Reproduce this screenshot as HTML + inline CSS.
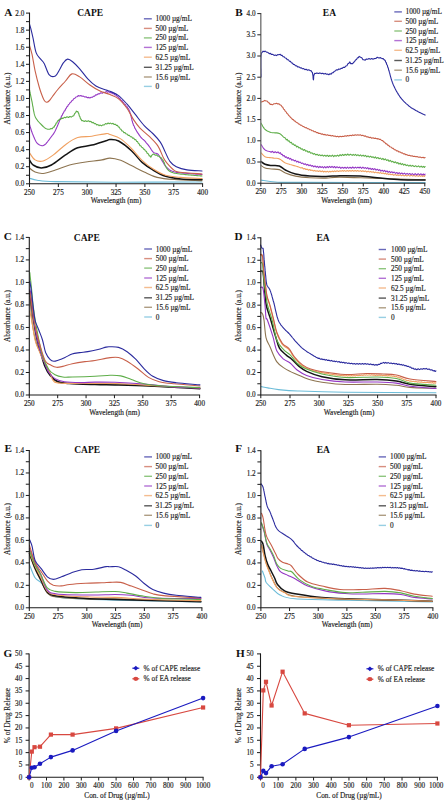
<!DOCTYPE html>
<html><head><meta charset="utf-8"><style>html,body{margin:0;padding:0;background:#fff;width:444px;height:800px;overflow:hidden}svg{display:block}</style></head>
<body><svg width="444" height="800" viewBox="0 0 444 800">
<rect width="444" height="800" fill="#fff"/>
<path d="M29.5 178.2 C30.8 178.5 32.9 179.6 37.2 180.2 C41.5 180.8 42.4 181.3 55.4 181.6 C68.4 181.9 90.6 182.1 115.0 182.2 C139.4 182.3 187.5 182.0 202.0 182.0" fill="none" stroke="#6cbcd8" stroke-width="1.1" stroke-linejoin="round" stroke-linecap="round"/>
<path d="M29.5 168.0 C30.4 168.7 32.8 171.2 35.1 172.1 C37.4 173.0 39.8 173.8 43.2 173.5 C46.6 173.2 51.0 171.5 55.4 170.1 C59.8 168.7 64.5 166.3 69.6 165.0 C74.7 163.7 80.4 162.8 85.8 162.0 C91.2 161.2 98.0 160.6 102.0 159.9 C106.0 159.2 106.9 158.0 110.0 158.1 C113.1 158.2 117.1 159.1 120.7 160.3 C124.3 161.6 127.5 163.7 131.4 165.6 C135.3 167.5 139.9 170.0 144.2 172.0 C148.5 174.0 152.1 176.2 157.1 177.4 C162.1 178.7 166.7 179.0 174.2 179.5 C181.7 180.0 197.4 180.4 202.0 180.6" fill="none" stroke="#8d7450" stroke-width="1.1" stroke-linejoin="round" stroke-linecap="round"/>
<path d="M29.5 160.0 C30.1 160.8 31.2 163.7 33.1 165.0 C35.1 166.3 38.2 168.0 41.2 168.0 C44.2 168.0 47.4 167.2 51.4 165.0 C55.4 162.8 61.1 157.8 65.5 154.9 C69.9 152.0 73.3 149.4 77.7 147.8 C82.1 146.2 87.2 146.3 91.9 145.1 C96.6 143.9 103.1 141.6 106.1 140.7 C109.1 139.8 107.9 139.4 110.0 139.5 C112.1 139.6 115.0 139.1 118.6 141.0 C122.2 142.9 127.5 147.1 131.4 150.7 C135.3 154.3 138.5 159.2 142.1 162.4 C145.7 165.6 148.9 167.6 152.8 169.9 C156.7 172.2 161.0 174.8 165.6 176.3 C170.2 177.8 174.5 178.4 180.6 178.9 C186.7 179.4 198.4 179.4 202.0 179.5" fill="none" stroke="#151515" stroke-width="1.5" stroke-linejoin="round" stroke-linecap="round"/>
<path d="M29.5 152.8 C30.4 154.0 32.8 158.5 35.1 159.9 C37.4 161.3 40.2 161.8 43.2 161.0 C46.2 160.2 49.7 157.6 53.4 154.9 C57.1 152.2 61.5 147.6 65.5 144.7 C69.5 141.8 73.3 139.0 77.7 137.6 C82.1 136.2 87.2 136.9 91.9 136.2 C96.6 135.5 103.1 133.9 106.1 133.6 C109.1 133.3 107.6 133.7 110.0 134.6 C112.4 135.5 117.1 136.6 120.7 138.9 C124.3 141.2 127.8 144.9 131.4 148.5 C135.0 152.1 138.5 156.9 142.1 160.3 C145.7 163.7 148.9 166.3 152.8 168.8 C156.7 171.3 161.0 173.9 165.6 175.3 C170.2 176.7 174.5 176.9 180.6 177.4 C186.7 177.9 198.4 178.3 202.0 178.5" fill="none" stroke="#f0a060" stroke-width="1.1" stroke-linejoin="round" stroke-linecap="round"/>
<path d="M29.5 124.5 L29.7 125.2 L30.0 126.2 L30.4 127.4 L30.8 128.6 L31.2 130.0 L31.6 131.3 L32.1 132.6 L32.5 133.7 L33.0 134.9 L33.5 136.2 L34.1 137.5 L34.6 138.7 L35.1 139.8 L35.6 140.8 L36.1 141.7 L37.1 143.2 L38.1 144.1 L39.2 144.7 L40.3 145.2 L41.5 145.6 L42.8 145.7 L44.3 145.1 L45.0 144.5 L45.8 143.8 L46.6 142.8 L47.5 141.8 L48.3 140.7 L49.2 139.6 L50.0 138.5 L50.7 137.5 L51.4 136.6 L52.2 135.5 L52.9 134.7 L53.5 133.9 L54.0 133.0 L54.6 132.0 L55.4 130.5 L55.8 129.6 L56.3 128.6 L56.8 127.4 L57.3 126.2 L57.8 125.0 L58.3 123.7 L58.9 122.4 L59.4 121.1 L59.9 119.8 L60.5 118.4 L61.0 117.8 L61.5 116.0 L62.2 115.4 L62.9 113.5 L63.5 112.9 L64.2 111.1 L64.9 110.7 L65.6 109.0 L66.2 108.4 L66.9 106.8 L67.6 106.5 L68.5 104.6 L69.3 104.1 L70.2 102.4 L71.1 102.1 L72.0 100.5 L72.8 100.3 L73.7 98.7 L74.8 98.3 L75.9 97.0 L77.0 96.8 L78.2 95.6 L79.7 96.0 L80.8 95.5 L82.0 96.3 L83.3 96.1 L84.7 97.0 L86.0 96.8 L87.4 97.8 L88.7 97.4 L89.9 98.0 L91.2 97.2 L92.4 97.3 L93.5 96.2 L94.6 96.1 L95.7 94.8 L96.9 94.9 L98.0 93.8 L99.4 93.9 L100.9 92.8 L102.3 93.2 L103.7 92.2 L105.0 92.5 L106.1 91.6 L107.6 92.2 L108.7 91.6 L110.0 92.7 L111.1 92.4 L112.4 93.7 L113.7 93.7 L115.1 95.0 L116.4 95.2 L117.3 96.7 L118.2 96.8 L119.1 98.3 L120.1 98.7 L121.0 100.2 L121.9 100.6 L122.8 102.3 L123.6 102.7 L124.5 104.2 L125.3 104.5 L126.2 106.1 L127.0 106.6 L127.8 108.3 L128.6 108.9 L129.3 111.0 L129.7 111.3 L130.1 113.0 L130.5 113.5 L130.8 115.3 L131.1 116.1 L131.4 118.0 L131.7 118.5 L132.0 120.6 L132.3 121.2 L132.7 123.0 L133.1 123.6 L133.5 125.4 L134.1 125.9 L134.7 127.9 L135.3 128.8 L136.0 130.0 L136.7 131.2 L137.4 132.4 L138.1 133.4 L138.8 134.4 L139.4 135.4 L140.0 136.2 L141.0 137.5 L141.9 138.4 L142.8 139.2 L143.6 139.8 L144.5 140.7 L145.4 141.7 L146.3 142.8 L147.2 143.8 L148.1 144.9 L149.0 146.1 L149.8 147.2 L150.5 148.3 L151.2 149.5 L152.0 150.6 L152.8 151.6 L153.5 152.4 L154.6 153.0 L155.8 153.2 L156.9 153.5 L158.0 154.2 L158.6 155.0 L159.3 155.9 L159.9 157.0 L160.6 158.1 L161.2 159.3 L161.9 160.4 L162.5 161.4 L163.2 162.5 L163.8 163.6 L164.5 164.7 L165.2 165.8 L166.0 166.8 L167.0 167.7 L167.8 168.4 L168.5 169.0 L169.3 169.6 L170.2 170.2 L171.2 170.8 L172.4 171.3 L174.0 171.8 L176.0 172.2 L176.9 172.4 L177.9 172.5 L179.0 172.7 L180.3 172.8 L181.6 172.9 L182.9 173.1 L184.4 173.2 L185.8 173.3 L187.3 173.5 L188.8 173.6 L190.3 173.7 L191.8 173.8 L193.2 173.9 L194.6 174.0 L196.0 174.1 L197.2 174.2 L198.4 174.2 L199.5 174.3 L200.5 174.4 L201.3 174.4 L202.0 174.5" fill="none" stroke="#9437c4" stroke-width="1.1" stroke-linejoin="round" stroke-linecap="round"/>
<path d="M29.5 90.0 L29.7 90.7 L29.8 91.6 L30.1 92.7 L30.3 93.9 L30.6 95.2 L30.9 96.6 L31.2 98.0 L31.5 99.4 L31.8 100.8 L32.1 102.2 L32.3 103.3 L32.5 104.5 L32.7 105.8 L33.0 107.0 L33.2 108.3 L33.4 109.6 L33.6 110.8 L33.9 112.0 L34.1 113.2 L34.4 114.4 L34.7 115.4 L35.1 116.4 L35.7 117.7 L36.4 118.9 L37.2 120.0 L38.0 121.1 L38.8 122.0 L39.6 122.9 L40.4 123.7 L41.2 124.5 L42.2 125.5 L43.2 126.5 L44.2 127.4 L45.3 128.2 L46.3 128.7 L47.3 129.1 L48.5 129.3 L49.8 129.2 L51.0 128.5 L52.3 128.7 L53.4 127.0 L54.2 127.1 L54.8 125.4 L55.5 125.0 L56.2 123.0 L56.9 122.7 L57.6 120.9 L58.4 120.7 L59.5 119.2 L60.6 119.4 L61.8 118.1 L63.1 118.4 L64.3 117.3 L65.5 117.8 L67.0 116.8 L68.5 117.5 L69.9 116.5 L71.3 117.1 L72.6 116.1 L73.7 115.8 L74.7 113.5 L75.5 112.9 L76.4 111.1 L77.3 111.7 L77.8 111.5 L78.4 113.1 L78.8 113.6 L79.3 115.9 L79.9 116.6 L80.4 118.7 L81.1 119.2 L81.8 120.8 L82.9 120.6 L84.2 121.5 L85.5 120.7 L86.9 121.5 L88.4 120.7 L89.9 121.7 L90.9 121.3 L92.0 122.7 L93.2 122.4 L94.4 123.7 L95.5 123.5 L96.7 124.9 L97.9 124.5 L99.0 125.7 L100.0 125.0 L101.5 125.9 L102.8 124.8 L104.2 125.0 L105.5 123.6 L106.8 124.1 L108.1 123.0 L109.3 123.8 L110.5 123.1 L111.7 123.9 L113.0 123.3 L114.2 124.5 L115.3 124.2 L116.4 125.4 L117.4 125.2 L118.4 127.0 L119.3 127.1 L120.1 128.9 L121.0 129.2 L121.9 131.0 L122.8 131.0 L123.9 132.6 L125.0 132.6 L126.1 134.0 L127.1 134.0 L128.2 135.4 L129.3 135.2 L130.4 136.8 L131.5 136.7 L132.6 138.1 L133.7 138.1 L134.8 139.7 L135.7 139.5 L136.7 141.4 L137.5 141.5 L138.3 143.4 L139.1 143.7 L140.0 145.7 L140.8 145.7 L141.7 147.3 L142.6 147.5 L143.6 149.1 L144.5 149.2 L145.4 150.9 L146.3 151.2 L147.3 153.4 L148.3 153.8 L149.3 155.9 L150.1 155.9 L150.8 157.3 L151.7 155.4 L152.6 154.6 L153.7 154.0 L155.1 155.2 L156.6 154.9 L158.0 156.3 L159.2 156.2 L160.3 157.7 L161.4 157.9 L162.5 160.0 L163.1 160.1 L163.6 162.0 L164.2 162.4 L164.8 164.5 L165.3 165.4 L165.9 166.6 L166.4 167.7 L167.0 168.6 L168.0 169.9 L169.0 170.8 L170.1 171.6 L171.5 172.2 L172.4 172.5 L173.2 172.8 L174.2 173.1 L175.2 173.3 L176.5 173.5 L178.0 173.7 L180.0 174.0 L180.9 174.1 L182.0 174.2 L183.1 174.3 L184.4 174.5 L185.7 174.6 L187.1 174.7 L188.6 174.9 L190.1 175.0 L191.5 175.1 L193.0 175.2 L194.4 175.4 L195.8 175.5 L197.1 175.6 L198.3 175.7 L199.5 175.8 L200.4 175.9 L201.3 175.9 L202.0 176.0" fill="none" stroke="#5fae4a" stroke-width="1.1" stroke-linejoin="round" stroke-linecap="round"/>
<path d="M29.5 45.5 C29.9 47.0 31.2 50.4 32.1 54.6 C33.0 58.8 33.9 65.4 35.1 70.8 C36.3 76.2 38.1 83.1 39.2 87.0 C40.3 90.9 40.7 91.8 41.5 94.0 C42.3 96.2 43.2 98.6 44.0 100.0 C44.8 101.4 45.6 102.1 46.5 102.2 C47.4 102.3 48.5 101.5 49.5 100.5 C50.5 99.5 51.2 98.2 52.5 96.5 C53.8 94.8 55.2 92.6 57.4 90.0 C59.6 87.4 63.1 83.7 65.5 81.0 C67.9 78.3 69.6 74.6 72.0 73.9 C74.4 73.2 76.7 75.1 79.7 76.9 C82.7 78.8 86.5 82.6 89.9 85.0 C93.3 87.4 96.7 89.5 100.0 91.1 C103.3 92.7 106.9 93.3 110.0 94.6 C113.1 95.9 115.8 96.5 118.6 98.8 C121.4 101.1 124.6 105.0 127.1 108.5 C129.6 112.0 131.3 116.3 133.5 119.6 C135.7 122.9 137.4 125.3 140.0 128.1 C142.6 130.9 146.0 133.2 149.0 136.2 C152.0 139.2 155.6 142.5 158.0 146.1 C160.4 149.7 161.9 155.0 163.4 157.8 C164.9 160.7 165.2 161.1 167.0 163.2 C168.8 165.3 172.0 168.9 174.2 170.4 C176.4 171.9 175.4 171.6 180.0 172.2 C184.6 172.8 198.3 173.7 202.0 174.0" fill="none" stroke="#c8604a" stroke-width="1.1" stroke-linejoin="round" stroke-linecap="round"/>
<path d="M29.5 24.2 C29.7 24.9 30.1 25.8 30.7 28.2 C31.3 30.6 32.2 34.3 33.1 38.4 C34.0 42.5 34.9 49.2 36.1 52.6 C37.3 56.0 38.8 56.9 40.2 58.7 C41.6 60.6 42.8 61.0 44.3 63.7 C45.8 66.4 47.4 72.9 49.3 74.9 C51.1 76.9 53.7 76.8 55.4 75.9 C57.1 75.1 58.1 72.0 59.5 69.8 C60.9 67.6 62.1 64.5 63.5 62.7 C64.8 60.9 66.1 59.3 67.6 59.1 C69.1 58.9 70.6 60.1 72.6 61.7 C74.6 63.3 77.2 65.9 79.7 68.8 C82.2 71.7 85.1 76.0 87.8 78.9 C90.5 81.8 92.9 84.1 95.9 86.0 C99.0 87.9 103.8 89.2 106.1 90.1 C108.4 91.0 107.9 90.4 110.0 91.3 C112.1 92.2 115.8 93.4 118.6 95.6 C121.4 97.8 124.2 101.0 127.1 104.2 C129.9 107.4 132.8 111.3 135.7 114.9 C138.5 118.5 141.3 122.5 144.2 125.6 C147.0 128.7 150.1 130.8 152.8 133.5 C155.5 136.2 158.3 139.2 160.3 142.1 C162.3 145.0 163.0 147.5 164.6 150.7 C166.2 153.9 167.9 158.6 169.9 161.3 C171.9 164.0 173.5 165.3 176.3 166.7 C179.2 168.1 182.7 169.2 187.0 169.9 C191.3 170.6 199.5 170.8 202.0 171.0" fill="none" stroke="#2b2b9e" stroke-width="1.1" stroke-linejoin="round" stroke-linecap="round"/>
<path d="M29.5 12.6V183.8" fill="none" stroke="#1a1a1a" stroke-width="1.1"/>
<path d="M29.0 183.8H203.1" fill="none" stroke="#1a1a1a" stroke-width="1.1"/>
<path d="M26.0 183.80H29.5" stroke="#1a1a1a" stroke-width="1"/>
<text x="24.3" y="186.20" text-anchor="end" font-size="7.2" font-family="Liberation Serif, serif" fill="#1e1e1e" stroke="#1e1e1e" stroke-width="0.16">0.0</text>
<path d="M26.0 166.73H29.5" stroke="#1a1a1a" stroke-width="1"/>
<text x="24.3" y="169.13" text-anchor="end" font-size="7.2" font-family="Liberation Serif, serif" fill="#1e1e1e" stroke="#1e1e1e" stroke-width="0.16">0.2</text>
<path d="M26.0 149.66H29.5" stroke="#1a1a1a" stroke-width="1"/>
<text x="24.3" y="152.06" text-anchor="end" font-size="7.2" font-family="Liberation Serif, serif" fill="#1e1e1e" stroke="#1e1e1e" stroke-width="0.16">0.4</text>
<path d="M26.0 132.59H29.5" stroke="#1a1a1a" stroke-width="1"/>
<text x="24.3" y="134.99" text-anchor="end" font-size="7.2" font-family="Liberation Serif, serif" fill="#1e1e1e" stroke="#1e1e1e" stroke-width="0.16">0.6</text>
<path d="M26.0 115.52H29.5" stroke="#1a1a1a" stroke-width="1"/>
<text x="24.3" y="117.92" text-anchor="end" font-size="7.2" font-family="Liberation Serif, serif" fill="#1e1e1e" stroke="#1e1e1e" stroke-width="0.16">0.8</text>
<path d="M26.0 98.45H29.5" stroke="#1a1a1a" stroke-width="1"/>
<text x="24.3" y="100.85" text-anchor="end" font-size="7.2" font-family="Liberation Serif, serif" fill="#1e1e1e" stroke="#1e1e1e" stroke-width="0.16">1.0</text>
<path d="M26.0 81.38H29.5" stroke="#1a1a1a" stroke-width="1"/>
<text x="24.3" y="83.78" text-anchor="end" font-size="7.2" font-family="Liberation Serif, serif" fill="#1e1e1e" stroke="#1e1e1e" stroke-width="0.16">1.2</text>
<path d="M26.0 64.31H29.5" stroke="#1a1a1a" stroke-width="1"/>
<text x="24.3" y="66.71" text-anchor="end" font-size="7.2" font-family="Liberation Serif, serif" fill="#1e1e1e" stroke="#1e1e1e" stroke-width="0.16">1.4</text>
<path d="M26.0 47.24H29.5" stroke="#1a1a1a" stroke-width="1"/>
<text x="24.3" y="49.64" text-anchor="end" font-size="7.2" font-family="Liberation Serif, serif" fill="#1e1e1e" stroke="#1e1e1e" stroke-width="0.16">1.6</text>
<path d="M26.0 30.17H29.5" stroke="#1a1a1a" stroke-width="1"/>
<text x="24.3" y="32.57" text-anchor="end" font-size="7.2" font-family="Liberation Serif, serif" fill="#1e1e1e" stroke="#1e1e1e" stroke-width="0.16">1.8</text>
<path d="M26.0 13.10H29.5" stroke="#1a1a1a" stroke-width="1"/>
<text x="24.3" y="15.50" text-anchor="end" font-size="7.2" font-family="Liberation Serif, serif" fill="#1e1e1e" stroke="#1e1e1e" stroke-width="0.16">2.0</text>
<path d="M26.0 175.27H29.5" stroke="#1a1a1a" stroke-width="1"/>
<path d="M26.0 158.19H29.5" stroke="#1a1a1a" stroke-width="1"/>
<path d="M26.0 141.12H29.5" stroke="#1a1a1a" stroke-width="1"/>
<path d="M26.0 124.06H29.5" stroke="#1a1a1a" stroke-width="1"/>
<path d="M26.0 106.98H29.5" stroke="#1a1a1a" stroke-width="1"/>
<path d="M26.0 89.91H29.5" stroke="#1a1a1a" stroke-width="1"/>
<path d="M26.0 72.84H29.5" stroke="#1a1a1a" stroke-width="1"/>
<path d="M26.0 55.78H29.5" stroke="#1a1a1a" stroke-width="1"/>
<path d="M26.0 38.70H29.5" stroke="#1a1a1a" stroke-width="1"/>
<path d="M26.0 21.63H29.5" stroke="#1a1a1a" stroke-width="1"/>
<path d="M29.50 183.8V187.0" stroke="#1a1a1a" stroke-width="1"/>
<text x="29.50" y="194.60" text-anchor="middle" font-size="7.2" font-family="Liberation Serif, serif" fill="#1e1e1e" stroke="#1e1e1e" stroke-width="0.16">250</text>
<path d="M58.35 183.8V187.0" stroke="#1a1a1a" stroke-width="1"/>
<text x="58.35" y="194.60" text-anchor="middle" font-size="7.2" font-family="Liberation Serif, serif" fill="#1e1e1e" stroke="#1e1e1e" stroke-width="0.16">275</text>
<path d="M87.20 183.8V187.0" stroke="#1a1a1a" stroke-width="1"/>
<text x="87.20" y="194.60" text-anchor="middle" font-size="7.2" font-family="Liberation Serif, serif" fill="#1e1e1e" stroke="#1e1e1e" stroke-width="0.16">300</text>
<path d="M116.05 183.8V187.0" stroke="#1a1a1a" stroke-width="1"/>
<text x="116.05" y="194.60" text-anchor="middle" font-size="7.2" font-family="Liberation Serif, serif" fill="#1e1e1e" stroke="#1e1e1e" stroke-width="0.16">325</text>
<path d="M144.90 183.8V187.0" stroke="#1a1a1a" stroke-width="1"/>
<text x="144.90" y="194.60" text-anchor="middle" font-size="7.2" font-family="Liberation Serif, serif" fill="#1e1e1e" stroke="#1e1e1e" stroke-width="0.16">350</text>
<path d="M173.75 183.8V187.0" stroke="#1a1a1a" stroke-width="1"/>
<text x="173.75" y="194.60" text-anchor="middle" font-size="7.2" font-family="Liberation Serif, serif" fill="#1e1e1e" stroke="#1e1e1e" stroke-width="0.16">375</text>
<path d="M202.60 183.8V187.0" stroke="#1a1a1a" stroke-width="1"/>
<text x="202.60" y="194.60" text-anchor="middle" font-size="7.2" font-family="Liberation Serif, serif" fill="#1e1e1e" stroke="#1e1e1e" stroke-width="0.16">400</text>
<text x="116" y="202.6" text-anchor="middle" font-size="7.3" font-family="Liberation Serif, serif" fill="#1e1e1e" stroke="#1e1e1e" stroke-width="0.16">Wavelength (nm)</text>
<text transform="translate(9.8 98.5) rotate(-90)" text-anchor="middle" font-size="7.3" font-family="Liberation Serif, serif" fill="#1e1e1e" stroke="#1e1e1e" stroke-width="0.16">Absorbance (a.u.)</text>
<text x="4.2" y="15.6" font-size="11.2" font-weight="bold" font-family="Liberation Serif, serif" fill="#111">A</text>
<text x="90.2" y="16.2" text-anchor="middle" font-size="9.5" font-weight="bold" font-family="Liberation Serif, serif" fill="#111">CAPE</text>
<path d="M261.1 180.1 C263.5 180.4 268.8 181.6 275.3 182.0 C281.8 182.4 275.0 182.3 300.0 182.4 C325.0 182.5 404.2 182.5 425.1 182.5" fill="none" stroke="#6cbcd8" stroke-width="1.1" stroke-linejoin="round" stroke-linecap="round"/>
<path d="M261.1 165.5 C261.8 165.9 263.4 167.4 265.1 168.0 C266.8 168.6 268.8 168.7 271.2 169.0 C273.6 169.3 276.9 168.9 279.3 169.6 C281.7 170.3 282.7 171.9 285.4 173.0 C288.1 174.1 291.4 175.3 295.5 176.1 C299.6 176.9 304.6 177.4 309.7 177.7 C314.8 178.0 320.9 178.2 326.0 178.1 C331.1 178.0 330.9 177.0 340.0 177.1 C349.1 177.2 366.3 178.1 380.5 178.5 C394.7 178.9 417.7 179.5 425.1 179.7" fill="none" stroke="#8d7450" stroke-width="1.1" stroke-linejoin="round" stroke-linecap="round"/>
<path d="M261.1 161.5 C261.8 162.0 263.4 163.6 265.1 164.3 C266.8 165.0 268.8 165.2 271.2 165.5 C273.6 165.8 276.9 165.2 279.3 166.0 C281.7 166.8 282.7 168.7 285.4 170.0 C288.1 171.3 291.4 173.1 295.5 174.1 C299.6 175.1 304.6 175.7 309.7 176.1 C314.8 176.5 320.9 176.6 326.0 176.5 C331.1 176.4 334.3 175.8 340.0 175.7 C345.7 175.6 353.6 175.7 360.3 176.1 C367.1 176.5 373.8 177.5 380.5 178.1 C387.2 178.7 393.4 179.4 400.8 179.7 C408.2 180.0 421.1 180.0 425.1 180.1" fill="none" stroke="#151515" stroke-width="1.5" stroke-linejoin="round" stroke-linecap="round"/>
<path d="M261.1 152.8 L261.8 153.6 L262.7 154.7 L263.9 155.9 L265.1 156.8 L266.2 157.2 L267.3 157.4 L268.5 157.5 L269.8 157.6 L271.2 157.8 L272.5 157.9 L273.8 158.1 L275.2 158.2 L276.7 158.3 L278.0 158.5 L279.3 158.9 L280.4 159.4 L281.3 160.1 L282.2 160.8 L283.1 161.5 L284.2 162.3 L285.4 162.9 L286.4 163.3 L287.5 163.7 L288.7 164.1 L289.9 164.5 L291.2 164.8 L292.6 165.2 L294.0 165.6 L295.5 166.0 L296.5 166.3 L297.6 166.6 L298.7 167.0 L299.9 167.4 L301.0 168.1 L302.2 167.6 L303.4 168.9 L304.7 168.5 L305.9 169.5 L307.2 169.1 L308.4 170.2 L309.7 169.5 L310.9 170.5 L312.1 170.1 L313.4 171.0 L314.6 170.4 L315.9 171.3 L317.2 170.7 L318.5 171.5 L319.8 170.8 L321.1 171.7 L322.4 170.9 L323.6 172.0 L324.8 171.2 L326.0 171.9 L327.3 171.2 L328.6 172.1 L329.8 171.2 L331.0 171.9 L332.2 171.1 L333.3 171.7 L334.5 170.9 L335.8 171.6 L337.1 170.7 L338.5 171.4 L340.0 170.7 L341.1 171.3 L342.2 170.6 L343.4 171.3 L344.6 170.6 L345.9 171.4 L347.2 170.5 L348.5 171.3 L349.8 170.5 L351.1 171.3 L352.4 170.4 L353.8 171.2 L355.1 170.5 L356.4 171.3 L357.7 170.5 L359.0 171.4 L360.3 170.6 L361.6 171.5 L362.9 170.7 L364.1 171.6 L365.4 170.9 L366.8 172.0 L368.1 171.1 L369.4 172.1 L370.6 171.5 L371.9 172.3 L373.2 171.8 L374.5 172.8 L375.7 172.1 L377.0 172.9 L378.2 172.3 L379.3 173.3 L380.5 172.6 L381.8 173.5 L383.1 172.9 L384.3 173.9 L385.4 173.2 L386.5 174.3 L387.6 173.6 L388.7 174.6 L389.8 174.1 L391.0 174.8 L392.3 174.2 L393.7 175.3 L395.2 174.6 L396.8 175.5 L397.8 174.8 L398.9 175.6 L400.1 174.8 L401.4 175.8 L402.7 175.0 L404.0 175.9 L405.4 175.2 L406.9 176.0 L408.3 175.1 L409.8 176.1 L411.2 175.3 L412.7 176.1 L414.1 175.4 L415.5 176.3 L416.9 175.6 L418.2 176.4 L419.4 175.5 L420.6 176.4 L421.7 175.6 L422.7 176.5 L423.6 175.6 L424.4 176.5 L425.1 175.7" fill="none" stroke="#f0a060" stroke-width="1.1" stroke-linejoin="round" stroke-linecap="round"/>
<path d="M261.1 144.6 L261.6 145.4 L262.3 146.5 L263.2 147.8 L264.1 149.0 L265.1 149.9 L266.2 150.5 L267.3 150.9 L268.5 151.3 L269.8 151.5 L271.2 152.3 L272.5 151.3 L273.8 152.7 L275.2 151.7 L276.7 152.8 L278.0 151.9 L279.3 153.4 L280.4 152.7 L281.3 154.4 L282.2 154.2 L283.1 156.0 L284.2 155.6 L285.4 157.4 L286.3 156.8 L287.3 158.3 L288.4 157.5 L289.5 159.1 L290.6 158.4 L291.8 160.2 L293.0 159.6 L294.3 160.9 L295.5 160.3 L296.6 162.0 L297.8 161.2 L299.0 162.6 L300.2 162.1 L301.5 163.5 L302.7 163.0 L304.0 164.4 L305.2 163.7 L306.5 165.1 L307.7 164.4 L308.9 165.7 L310.1 164.9 L311.4 166.2 L312.6 165.6 L313.8 166.9 L315.0 165.8 L316.2 167.2 L317.5 166.3 L318.7 167.6 L319.9 166.3 L321.1 167.5 L322.3 166.6 L323.5 167.8 L324.7 166.5 L325.9 167.8 L327.1 166.5 L328.3 167.7 L329.5 166.4 L330.8 167.5 L332.0 166.4 L333.3 167.7 L334.5 166.5 L335.8 167.8 L337.0 166.7 L338.3 167.8 L339.6 167.0 L340.9 168.3 L342.2 167.2 L343.6 168.2 L345.0 167.2 L346.2 168.4 L347.5 167.2 L348.7 168.3 L350.0 167.2 L351.4 168.3 L352.7 167.0 L354.0 168.2 L355.4 167.1 L356.6 168.1 L357.9 167.1 L359.1 168.0 L360.3 167.0 L361.6 168.4 L362.9 167.2 L364.2 168.4 L365.4 167.5 L366.5 168.7 L367.7 167.6 L368.9 169.1 L370.0 168.1 L371.2 169.5 L372.4 168.5 L373.6 169.7 L374.8 168.7 L376.1 170.1 L377.3 169.2 L378.5 170.5 L379.7 169.6 L380.9 171.1 L382.2 170.2 L383.4 171.4 L384.6 170.4 L385.8 171.9 L387.0 170.8 L388.2 172.3 L389.4 171.3 L390.6 172.6 L391.8 171.7 L393.0 172.9 L394.2 172.0 L395.5 173.4 L396.8 172.5 L398.0 173.7 L399.3 172.7 L400.5 173.9 L401.8 173.0 L403.1 174.2 L404.4 173.1 L405.8 174.4 L407.1 173.3 L408.4 174.4 L409.7 173.5 L411.0 174.6 L412.3 173.6 L413.8 174.9 L415.2 173.6 L416.7 175.0 L418.2 173.7 L419.6 174.9 L421.0 173.8 L422.3 175.0 L423.4 174.0 L424.3 174.9 L425.1 174.1" fill="none" stroke="#9437c4" stroke-width="1.1" stroke-linejoin="round" stroke-linecap="round"/>
<path d="M261.1 123.2 L261.5 123.9 L262.1 125.0 L262.7 126.2 L263.5 127.4 L264.3 128.6 L265.1 129.5 L266.2 130.3 L267.3 131.0 L268.5 131.6 L269.8 132.1 L271.2 132.5 L272.5 132.7 L273.8 132.8 L275.2 132.9 L276.7 132.9 L278.0 133.1 L279.3 133.5 L280.4 134.1 L281.3 134.8 L282.2 135.7 L283.1 136.6 L284.2 137.6 L285.4 138.1 L286.2 139.9 L287.2 139.3 L288.1 141.1 L289.1 140.8 L290.2 142.7 L291.3 142.3 L292.3 144.3 L293.4 143.9 L294.5 145.5 L295.5 145.0 L296.6 146.9 L297.8 146.3 L298.9 148.0 L300.0 147.6 L301.2 149.3 L302.3 148.7 L303.4 150.4 L304.6 149.5 L305.7 151.1 L307.0 150.8 L308.2 152.3 L309.5 151.6 L310.7 153.3 L312.0 152.8 L313.3 154.2 L314.5 153.6 L315.8 154.9 L317.1 154.2 L318.3 155.5 L319.6 154.7 L320.9 155.8 L322.2 155.0 L323.5 156.2 L324.7 155.2 L326.0 156.2 L327.3 155.2 L328.6 156.5 L329.8 155.3 L331.1 156.4 L332.4 155.2 L333.7 156.6 L334.9 155.4 L336.1 156.3 L337.4 155.1 L338.8 156.2 L340.1 154.7 L341.4 155.7 L342.6 154.4 L343.8 155.5 L345.0 154.3 L346.5 155.3 L347.8 154.0 L349.0 155.3 L350.5 154.2 L352.2 155.4 L353.2 154.4 L354.3 155.4 L355.5 154.4 L356.7 155.6 L357.9 154.7 L359.2 155.9 L360.5 154.8 L361.8 156.1 L363.1 155.1 L364.3 156.3 L365.5 155.4 L366.8 156.8 L368.0 155.8 L369.3 157.1 L370.5 156.2 L371.8 157.4 L373.0 156.7 L374.2 158.0 L375.4 156.9 L376.5 158.4 L377.9 157.5 L379.2 158.8 L380.4 158.0 L381.7 159.5 L382.9 158.4 L384.1 159.9 L385.3 158.9 L386.6 160.4 L387.9 159.7 L389.1 161.3 L390.3 160.4 L391.6 161.9 L392.8 161.3 L394.1 162.7 L395.4 161.8 L396.8 163.3 L397.9 162.5 L399.0 164.1 L400.2 163.1 L401.3 164.6 L402.5 163.6 L403.7 165.1 L404.9 164.2 L406.2 165.6 L407.5 164.9 L408.9 166.2 L410.1 165.1 L411.3 166.3 L412.7 165.4 L414.1 166.6 L415.6 165.7 L417.0 166.9 L418.5 165.9 L419.9 167.2 L421.2 166.1 L422.4 167.3 L423.5 166.4 L424.4 167.4 L425.1 166.5" fill="none" stroke="#5fae4a" stroke-width="1.1" stroke-linejoin="round" stroke-linecap="round"/>
<path d="M261.1 102.1 L262.0 101.7 L263.3 101.4 L264.7 100.4 L266.1 101.0 L267.1 101.0 L268.2 102.4 L269.2 102.9 L270.2 104.4 L271.2 104.4 L272.6 104.8 L273.9 103.7 L275.3 103.8 L276.5 103.2 L277.7 103.9 L279.0 103.8 L280.3 105.0 L281.1 105.2 L282.0 106.7 L282.8 107.2 L283.6 109.1 L284.5 109.8 L285.4 111.4 L286.2 111.9 L287.0 113.6 L287.8 114.0 L288.7 115.5 L289.6 116.1 L290.5 117.5 L291.5 118.1 L292.4 119.4 L293.3 119.6 L294.3 120.9 L295.3 121.2 L296.3 122.5 L297.4 122.7 L298.5 123.9 L299.6 124.2 L300.6 125.3 L301.7 125.3 L302.8 126.5 L303.9 126.6 L305.1 127.7 L306.3 127.6 L307.4 128.7 L308.6 128.7 L309.7 129.8 L310.8 129.7 L312.0 130.8 L313.1 130.7 L314.2 131.8 L315.4 131.6 L316.5 132.6 L317.6 132.5 L318.8 133.5 L319.9 133.2 L321.2 134.1 L322.4 133.9 L323.7 134.7 L325.0 134.4 L326.2 135.2 L327.5 134.8 L328.7 135.5 L330.0 135.2 L331.3 136.0 L332.5 135.6 L333.8 136.3 L335.1 136.0 L336.3 136.7 L337.6 136.2 L338.8 136.9 L340.1 136.3 L341.4 136.8 L342.6 136.2 L343.8 136.5 L345.1 135.8 L346.3 136.3 L347.6 135.5 L348.8 135.9 L350.1 135.3 L351.4 135.7 L352.6 134.9 L353.9 135.5 L355.2 134.8 L356.5 135.3 L357.8 134.7 L359.0 135.3 L360.3 134.8 L361.6 135.6 L362.8 135.3 L364.1 136.1 L365.4 135.9 L366.6 136.9 L367.9 136.7 L369.1 137.6 L370.4 137.3 L371.7 138.2 L373.0 137.7 L374.3 138.5 L375.6 138.1 L376.9 138.9 L378.1 138.6 L379.3 139.4 L380.5 139.3 L381.6 140.5 L382.7 140.6 L383.7 141.9 L384.7 142.2 L385.7 143.6 L386.7 143.9 L387.7 145.2 L388.7 145.4 L389.8 146.8 L391.0 147.0 L392.1 148.2 L393.2 148.4 L394.3 149.6 L395.5 149.8 L396.8 151.0 L397.8 150.9 L398.9 152.0 L400.0 151.9 L401.2 152.9 L402.3 152.8 L403.5 153.9 L404.6 153.8 L405.8 154.7 L406.9 154.6 L408.2 155.5 L409.5 155.2 L410.8 156.0 L412.1 155.7 L413.4 156.5 L414.6 156.2 L415.8 156.8 L417.0 156.5 L418.6 157.3 L420.1 157.0 L421.7 157.7 L423.1 157.3 L424.2 158.0 L425.1 157.5" fill="none" stroke="#c8604a" stroke-width="1.1" stroke-linejoin="round" stroke-linecap="round"/>
<path d="M261.1 77.0 L261.1 76.3 L261.1 75.4 L261.1 74.4 L261.0 73.3 L261.0 72.1 L261.0 70.7 L261.0 69.3 L260.9 67.9 L260.9 66.4 L260.9 64.9 L260.9 63.5 L260.9 62.0 L260.9 60.7 L260.9 59.3 L260.9 58.1 L261.0 57.1 L261.0 56.1 L261.1 55.3 L261.6 52.9 L262.3 52.1 L263.1 51.1 L264.1 51.7 L265.2 51.1 L266.5 52.2 L267.8 52.3 L269.2 53.6 L270.4 53.4 L271.6 54.5 L272.9 54.4 L274.1 55.4 L275.3 55.0 L276.6 55.6 L277.7 54.6 L278.9 54.8 L280.3 54.3 L281.2 55.4 L282.1 55.2 L283.1 56.7 L284.2 56.8 L285.2 58.0 L286.3 58.3 L287.4 59.8 L288.4 59.8 L289.4 61.2 L290.4 61.4 L291.4 62.8 L292.4 63.1 L293.4 64.4 L294.5 64.5 L295.5 65.8 L296.7 65.9 L297.8 67.0 L299.0 66.9 L300.2 67.9 L301.4 67.8 L302.5 68.8 L303.7 68.6 L304.9 69.6 L306.2 69.3 L307.5 70.2 L308.8 69.7 L310.0 70.7 L311.0 70.6 L311.8 72.0 L312.4 72.4 L312.8 74.8 L313.0 75.9 L313.1 78.2 L313.2 78.8 L313.4 80.0 L313.6 79.0 L313.6 78.4 L313.7 75.9 L314.0 75.0 L314.8 73.3 L315.7 73.5 L316.9 72.9 L318.3 73.5 L319.8 72.9 L321.3 73.6 L322.7 73.2 L323.9 74.0 L325.3 73.4 L326.5 74.3 L327.7 74.0 L328.8 74.7 L330.0 73.8 L331.1 74.1 L332.1 72.8 L333.2 72.7 L334.3 71.3 L335.3 71.0 L336.3 69.8 L337.6 70.0 L338.7 69.0 L339.9 69.3 L341.0 68.3 L342.2 68.4 L343.4 67.2 L344.7 67.4 L345.8 66.0 L346.9 65.7 L347.9 63.8 L348.9 63.3 L349.7 61.9 L350.7 63.6 L352.1 63.6 L352.8 63.6 L353.6 62.2 L354.5 61.8 L355.5 60.0 L356.5 59.5 L357.5 57.7 L358.4 57.6 L359.2 56.4 L360.6 57.3 L361.8 57.7 L362.8 59.6 L363.9 59.7 L365.2 60.2 L366.4 59.0 L367.8 59.2 L369.0 58.6 L370.3 59.2 L371.7 58.6 L373.0 59.3 L374.1 58.6 L375.8 58.5 L377.3 57.3 L378.8 58.0 L380.5 57.6 L382.0 58.6 L383.2 58.6 L384.2 59.8 L385.2 60.5 L385.7 62.1 L386.2 62.5 L386.7 64.5 L387.3 65.2 L387.8 67.3 L388.3 68.2 L388.7 70.1 L389.0 70.6 L389.4 72.4 L389.7 73.2 L390.1 74.8 L390.4 76.1 L390.8 77.4 L391.1 78.6 L391.5 79.7 L391.9 81.0 L392.3 82.2 L392.7 83.3 L393.1 84.3 L393.6 85.4 L394.1 86.6 L394.7 87.8 L395.2 88.8 L395.8 89.9 L396.4 91.1 L397.1 92.3 L397.8 93.4 L398.5 94.6 L399.3 95.8 L400.0 96.9 L400.8 97.9 L401.6 98.9 L402.5 99.9 L403.4 100.9 L404.3 101.8 L405.2 102.7 L406.1 103.6 L407.1 104.4 L408.0 105.2 L408.9 106.0 L410.1 106.9 L411.2 107.7 L412.4 108.5 L413.5 109.1 L414.7 109.8 L415.8 110.5 L417.0 111.1 L418.2 111.8 L419.6 112.4 L420.9 113.1 L422.2 113.7 L423.4 114.3 L424.4 114.7 L425.1 115.1" fill="none" stroke="#2b2b9e" stroke-width="1.1" stroke-linejoin="round" stroke-linecap="round"/>
<path d="M260.8 13.1V183.2" fill="none" stroke="#777" stroke-width="1.4"/>
<path d="M260.3 183.2H425.3" fill="none" stroke="#2a2a2a" stroke-width="1.1"/>
<path d="M257.3 183.20H260.8" stroke="#222" stroke-width="1"/>
<text x="255.60000000000002" y="185.60" text-anchor="end" font-size="7.2" font-family="Liberation Serif, serif" fill="#1e1e1e" stroke="#1e1e1e" stroke-width="0.16">0.0</text>
<path d="M257.3 162.00H260.8" stroke="#222" stroke-width="1"/>
<text x="255.60000000000002" y="164.40" text-anchor="end" font-size="7.2" font-family="Liberation Serif, serif" fill="#1e1e1e" stroke="#1e1e1e" stroke-width="0.16">0.5</text>
<path d="M257.3 140.80H260.8" stroke="#222" stroke-width="1"/>
<text x="255.60000000000002" y="143.20" text-anchor="end" font-size="7.2" font-family="Liberation Serif, serif" fill="#1e1e1e" stroke="#1e1e1e" stroke-width="0.16">1.0</text>
<path d="M257.3 119.60H260.8" stroke="#222" stroke-width="1"/>
<text x="255.60000000000002" y="122.00" text-anchor="end" font-size="7.2" font-family="Liberation Serif, serif" fill="#1e1e1e" stroke="#1e1e1e" stroke-width="0.16">1.5</text>
<path d="M257.3 98.40H260.8" stroke="#222" stroke-width="1"/>
<text x="255.60000000000002" y="100.80" text-anchor="end" font-size="7.2" font-family="Liberation Serif, serif" fill="#1e1e1e" stroke="#1e1e1e" stroke-width="0.16">2.0</text>
<path d="M257.3 77.20H260.8" stroke="#222" stroke-width="1"/>
<text x="255.60000000000002" y="79.60" text-anchor="end" font-size="7.2" font-family="Liberation Serif, serif" fill="#1e1e1e" stroke="#1e1e1e" stroke-width="0.16">2.5</text>
<path d="M257.3 56.00H260.8" stroke="#222" stroke-width="1"/>
<text x="255.60000000000002" y="58.40" text-anchor="end" font-size="7.2" font-family="Liberation Serif, serif" fill="#1e1e1e" stroke="#1e1e1e" stroke-width="0.16">3.0</text>
<path d="M257.3 34.80H260.8" stroke="#222" stroke-width="1"/>
<text x="255.60000000000002" y="37.20" text-anchor="end" font-size="7.2" font-family="Liberation Serif, serif" fill="#1e1e1e" stroke="#1e1e1e" stroke-width="0.16">3.5</text>
<path d="M257.3 13.60H260.8" stroke="#222" stroke-width="1"/>
<text x="255.60000000000002" y="16.00" text-anchor="end" font-size="7.2" font-family="Liberation Serif, serif" fill="#1e1e1e" stroke="#1e1e1e" stroke-width="0.16">4.0</text>
<path d="M260.80 183.2V186.39999999999998" stroke="#222" stroke-width="1"/>
<text x="260.80" y="194.00" text-anchor="middle" font-size="7.2" font-family="Liberation Serif, serif" fill="#1e1e1e" stroke="#1e1e1e" stroke-width="0.16">250</text>
<path d="M281.30 183.2V186.39999999999998" stroke="#222" stroke-width="1"/>
<text x="281.30" y="194.00" text-anchor="middle" font-size="7.2" font-family="Liberation Serif, serif" fill="#1e1e1e" stroke="#1e1e1e" stroke-width="0.16">275</text>
<path d="M301.80 183.2V186.39999999999998" stroke="#222" stroke-width="1"/>
<text x="301.80" y="194.00" text-anchor="middle" font-size="7.2" font-family="Liberation Serif, serif" fill="#1e1e1e" stroke="#1e1e1e" stroke-width="0.16">300</text>
<path d="M322.30 183.2V186.39999999999998" stroke="#222" stroke-width="1"/>
<text x="322.30" y="194.00" text-anchor="middle" font-size="7.2" font-family="Liberation Serif, serif" fill="#1e1e1e" stroke="#1e1e1e" stroke-width="0.16">325</text>
<path d="M342.80 183.2V186.39999999999998" stroke="#222" stroke-width="1"/>
<text x="342.80" y="194.00" text-anchor="middle" font-size="7.2" font-family="Liberation Serif, serif" fill="#1e1e1e" stroke="#1e1e1e" stroke-width="0.16">350</text>
<path d="M363.30 183.2V186.39999999999998" stroke="#222" stroke-width="1"/>
<text x="363.30" y="194.00" text-anchor="middle" font-size="7.2" font-family="Liberation Serif, serif" fill="#1e1e1e" stroke="#1e1e1e" stroke-width="0.16">375</text>
<path d="M383.80 183.2V186.39999999999998" stroke="#222" stroke-width="1"/>
<text x="383.80" y="194.00" text-anchor="middle" font-size="7.2" font-family="Liberation Serif, serif" fill="#1e1e1e" stroke="#1e1e1e" stroke-width="0.16">400</text>
<path d="M404.30 183.2V186.39999999999998" stroke="#222" stroke-width="1"/>
<text x="404.30" y="194.00" text-anchor="middle" font-size="7.2" font-family="Liberation Serif, serif" fill="#1e1e1e" stroke="#1e1e1e" stroke-width="0.16">425</text>
<path d="M424.80 183.2V186.39999999999998" stroke="#222" stroke-width="1"/>
<text x="424.80" y="194.00" text-anchor="middle" font-size="7.2" font-family="Liberation Serif, serif" fill="#1e1e1e" stroke="#1e1e1e" stroke-width="0.16">450</text>
<text x="346.5" y="202.6" text-anchor="middle" font-size="7.3" font-family="Liberation Serif, serif" fill="#1e1e1e" stroke="#1e1e1e" stroke-width="0.16">Wavelength (nm)</text>
<text transform="translate(240.5 98.5) rotate(-90)" text-anchor="middle" font-size="7.3" font-family="Liberation Serif, serif" fill="#1e1e1e" stroke="#1e1e1e" stroke-width="0.16">Absorbance (a.u.)</text>
<text x="235.3" y="15.8" font-size="11.2" font-weight="bold" font-family="Liberation Serif, serif" fill="#111">B</text>
<text x="329.4" y="15.8" text-anchor="middle" font-size="9.5" font-weight="bold" font-family="Liberation Serif, serif" fill="#111">EA</text>
<path d="M29.8 296.3 C30.2 301.1 31.4 317.3 32.5 325.0 C33.6 332.7 34.8 337.5 36.2 342.5 C37.7 347.5 39.8 351.5 41.2 355.0 C42.7 358.5 43.5 360.8 45.0 363.8 C46.5 366.8 47.9 370.0 50.0 373.0 C52.1 376.0 52.4 380.2 57.4 382.0 C62.4 383.8 70.4 383.2 80.0 383.5 C89.6 383.8 101.7 383.5 115.0 384.0 C128.3 384.5 145.8 385.8 160.0 386.5 C174.2 387.2 193.2 388.2 199.9 388.5" fill="none" stroke="#8d7450" stroke-width="1.1" stroke-linejoin="round" stroke-linecap="round"/>
<path d="M29.8 291.0 C30.0 293.2 30.9 299.2 31.5 304.0 C32.1 308.8 32.7 314.5 33.5 320.0 C34.3 325.5 35.3 331.7 36.5 337.0 C37.7 342.3 39.1 347.2 40.5 352.0 C41.9 356.8 43.1 362.1 44.7 366.0 C46.3 369.9 48.0 372.9 50.2 375.5 C52.4 378.1 55.0 380.5 58.1 381.8 C61.2 383.1 62.9 382.9 69.1 383.4 C75.2 383.9 87.3 384.3 95.0 384.6 C102.7 384.9 105.8 384.8 115.0 385.0 C124.2 385.2 135.8 385.4 150.0 386.0 C164.2 386.6 191.6 388.2 199.9 388.7" fill="none" stroke="#151515" stroke-width="1.5" stroke-linejoin="round" stroke-linecap="round"/>
<path d="M29.8 311.3 C30.1 313.0 31.0 316.5 31.9 321.3 C32.8 326.1 33.9 335.2 35.0 340.0 C36.1 344.8 37.5 346.9 38.8 350.0 C40.0 353.1 41.2 356.3 42.5 358.8 C43.8 361.3 45.0 362.6 46.3 365.0 C47.5 367.4 48.7 370.2 50.0 373.0 C51.3 375.8 51.8 380.1 54.2 381.8 C56.6 383.5 59.1 383.1 64.4 383.4 C69.7 383.7 77.4 383.5 85.8 383.5 C94.2 383.5 102.6 383.1 115.0 383.5 C127.4 383.9 145.8 385.2 160.0 386.0 C174.2 386.8 193.2 387.7 199.9 388.0" fill="none" stroke="#f0a060" stroke-width="1.1" stroke-linejoin="round" stroke-linecap="round"/>
<path d="M29.8 289.0 C30.0 291.2 30.9 297.2 31.5 302.0 C32.1 306.8 32.7 312.3 33.5 318.0 C34.3 323.7 35.4 330.7 36.5 336.0 C37.6 341.3 38.8 345.8 40.0 350.0 C41.2 354.2 42.4 357.6 43.9 361.3 C45.4 365.0 46.9 369.4 48.7 372.3 C50.6 375.2 52.4 377.0 55.0 378.6 C57.6 380.2 60.2 381.1 64.4 381.8 C68.6 382.5 75.1 382.6 80.2 382.6 C85.3 382.7 89.2 382.2 95.0 382.1 C100.8 382.1 106.8 382.0 115.0 382.3 C123.2 382.6 134.8 383.3 144.0 384.0 C153.2 384.7 160.7 385.9 170.0 386.6 C179.3 387.3 194.9 387.9 199.9 388.1" fill="none" stroke="#9437c4" stroke-width="1.1" stroke-linejoin="round" stroke-linecap="round"/>
<path d="M29.8 272.5 C29.9 273.8 30.2 276.7 30.6 280.0 C31.0 283.3 31.5 288.3 31.9 292.5 C32.3 296.7 32.5 300.1 33.1 305.0 C33.7 309.9 34.6 316.5 35.5 322.0 C36.4 327.5 37.4 332.5 38.5 338.0 C39.6 343.5 40.6 349.8 42.3 355.0 C44.0 360.2 46.5 365.9 48.6 369.2 C50.7 372.5 52.6 373.4 55.0 374.7 C57.4 376.0 59.9 376.6 62.8 377.0 C65.7 377.4 66.9 377.1 72.3 377.0 C77.7 376.9 88.7 376.6 95.0 376.3 C101.3 376.0 105.7 375.4 110.0 375.3 C114.3 375.2 117.1 375.2 120.7 375.9 C124.3 376.6 127.5 378.2 131.4 379.5 C135.3 380.8 138.8 382.7 144.2 383.8 C149.5 384.9 154.2 385.4 163.5 386.0 C172.8 386.6 193.8 387.2 199.9 387.5" fill="none" stroke="#5fae4a" stroke-width="1.1" stroke-linejoin="round" stroke-linecap="round"/>
<path d="M29.8 292.0 C30.0 293.8 30.9 298.7 31.5 303.0 C32.1 307.3 32.8 313.5 33.5 318.0 C34.2 322.5 34.8 325.0 36.0 330.0 C37.2 335.0 39.2 342.8 40.8 348.0 C42.4 353.2 43.8 358.4 45.5 361.3 C47.2 364.2 49.2 364.2 51.0 365.2 C52.8 366.2 54.5 367.1 56.5 367.3 C58.5 367.5 60.2 367.0 62.8 366.4 C65.4 365.8 68.6 364.5 72.3 363.7 C76.0 362.9 81.1 362.1 84.9 361.6 C88.7 361.1 90.8 361.2 95.0 360.5 C99.2 359.8 106.2 358.1 110.1 357.6 C114.0 357.1 115.8 356.9 118.6 357.5 C121.4 358.1 123.9 359.4 127.1 361.3 C130.3 363.2 134.2 366.1 137.8 368.8 C141.4 371.5 144.9 375.2 148.5 377.4 C152.1 379.5 154.9 380.6 159.2 381.7 C163.5 382.8 167.4 383.1 174.2 383.8 C181.0 384.5 195.6 385.6 199.9 386.0" fill="none" stroke="#c8604a" stroke-width="1.1" stroke-linejoin="round" stroke-linecap="round"/>
<path d="M29.8 281.3 C30.0 282.8 30.7 285.8 31.2 290.0 C31.8 294.2 32.5 301.3 33.1 306.3 C33.7 311.3 34.1 316.1 35.0 320.0 C35.9 323.9 37.5 326.7 38.8 330.0 C40.0 333.3 41.4 336.2 42.5 340.0 C43.6 343.8 44.4 349.3 45.6 352.5 C46.9 355.7 48.6 357.9 50.0 359.4 C51.4 360.9 52.3 361.2 53.8 361.3 C55.2 361.4 56.9 360.6 58.8 360.0 C60.6 359.4 62.8 358.5 65.0 357.5 C67.2 356.5 69.5 354.8 72.0 354.0 C74.5 353.2 77.1 353.0 79.7 352.6 C82.3 352.2 84.8 352.1 87.8 351.6 C90.8 351.1 95.0 350.2 98.0 349.5 C101.0 348.8 104.1 347.6 106.1 347.1 C108.1 346.7 107.9 346.8 110.0 346.8 C112.1 346.9 115.8 346.6 118.6 347.4 C121.4 348.2 124.2 349.7 127.1 351.7 C129.9 353.7 132.8 356.3 135.7 359.2 C138.5 362.1 141.3 365.9 144.2 368.8 C147.0 371.7 149.6 374.3 152.8 376.3 C156.0 378.3 159.6 379.5 163.5 380.6 C167.4 381.7 170.2 382.0 176.3 382.7 C182.4 383.4 196.0 384.5 199.9 384.9" fill="none" stroke="#2b2b9e" stroke-width="1.1" stroke-linejoin="round" stroke-linecap="round"/>
<path d="M29.3 236.9V395" fill="none" stroke="#1a1a1a" stroke-width="1.1"/>
<path d="M28.8 395H200.1" fill="none" stroke="#1a1a1a" stroke-width="1.1"/>
<path d="M25.8 395.00H29.3" stroke="#1a1a1a" stroke-width="1"/>
<text x="24.1" y="397.40" text-anchor="end" font-size="7.2" font-family="Liberation Serif, serif" fill="#1e1e1e" stroke="#1e1e1e" stroke-width="0.16">0.0</text>
<path d="M25.8 372.49H29.3" stroke="#1a1a1a" stroke-width="1"/>
<text x="24.1" y="374.89" text-anchor="end" font-size="7.2" font-family="Liberation Serif, serif" fill="#1e1e1e" stroke="#1e1e1e" stroke-width="0.16">0.2</text>
<path d="M25.8 349.97H29.3" stroke="#1a1a1a" stroke-width="1"/>
<text x="24.1" y="352.37" text-anchor="end" font-size="7.2" font-family="Liberation Serif, serif" fill="#1e1e1e" stroke="#1e1e1e" stroke-width="0.16">0.4</text>
<path d="M25.8 327.46H29.3" stroke="#1a1a1a" stroke-width="1"/>
<text x="24.1" y="329.86" text-anchor="end" font-size="7.2" font-family="Liberation Serif, serif" fill="#1e1e1e" stroke="#1e1e1e" stroke-width="0.16">0.6</text>
<path d="M25.8 304.94H29.3" stroke="#1a1a1a" stroke-width="1"/>
<text x="24.1" y="307.34" text-anchor="end" font-size="7.2" font-family="Liberation Serif, serif" fill="#1e1e1e" stroke="#1e1e1e" stroke-width="0.16">0.8</text>
<path d="M25.8 282.43H29.3" stroke="#1a1a1a" stroke-width="1"/>
<text x="24.1" y="284.83" text-anchor="end" font-size="7.2" font-family="Liberation Serif, serif" fill="#1e1e1e" stroke="#1e1e1e" stroke-width="0.16">1.0</text>
<path d="M25.8 259.91H29.3" stroke="#1a1a1a" stroke-width="1"/>
<text x="24.1" y="262.31" text-anchor="end" font-size="7.2" font-family="Liberation Serif, serif" fill="#1e1e1e" stroke="#1e1e1e" stroke-width="0.16">1.2</text>
<path d="M25.8 237.40H29.3" stroke="#1a1a1a" stroke-width="1"/>
<text x="24.1" y="239.80" text-anchor="end" font-size="7.2" font-family="Liberation Serif, serif" fill="#1e1e1e" stroke="#1e1e1e" stroke-width="0.16">1.4</text>
<path d="M25.8 383.74H29.3" stroke="#1a1a1a" stroke-width="1"/>
<path d="M25.8 361.23H29.3" stroke="#1a1a1a" stroke-width="1"/>
<path d="M25.8 338.71H29.3" stroke="#1a1a1a" stroke-width="1"/>
<path d="M25.8 316.20H29.3" stroke="#1a1a1a" stroke-width="1"/>
<path d="M25.8 293.69H29.3" stroke="#1a1a1a" stroke-width="1"/>
<path d="M25.8 271.17H29.3" stroke="#1a1a1a" stroke-width="1"/>
<path d="M25.8 248.66H29.3" stroke="#1a1a1a" stroke-width="1"/>
<path d="M29.30 395V398.2" stroke="#1a1a1a" stroke-width="1"/>
<text x="29.30" y="405.80" text-anchor="middle" font-size="7.2" font-family="Liberation Serif, serif" fill="#1e1e1e" stroke="#1e1e1e" stroke-width="0.16">250</text>
<path d="M57.68 395V398.2" stroke="#1a1a1a" stroke-width="1"/>
<text x="57.68" y="405.80" text-anchor="middle" font-size="7.2" font-family="Liberation Serif, serif" fill="#1e1e1e" stroke="#1e1e1e" stroke-width="0.16">275</text>
<path d="M86.07 395V398.2" stroke="#1a1a1a" stroke-width="1"/>
<text x="86.07" y="405.80" text-anchor="middle" font-size="7.2" font-family="Liberation Serif, serif" fill="#1e1e1e" stroke="#1e1e1e" stroke-width="0.16">300</text>
<path d="M114.45 395V398.2" stroke="#1a1a1a" stroke-width="1"/>
<text x="114.45" y="405.80" text-anchor="middle" font-size="7.2" font-family="Liberation Serif, serif" fill="#1e1e1e" stroke="#1e1e1e" stroke-width="0.16">325</text>
<path d="M142.83 395V398.2" stroke="#1a1a1a" stroke-width="1"/>
<text x="142.83" y="405.80" text-anchor="middle" font-size="7.2" font-family="Liberation Serif, serif" fill="#1e1e1e" stroke="#1e1e1e" stroke-width="0.16">350</text>
<path d="M171.22 395V398.2" stroke="#1a1a1a" stroke-width="1"/>
<text x="171.22" y="405.80" text-anchor="middle" font-size="7.2" font-family="Liberation Serif, serif" fill="#1e1e1e" stroke="#1e1e1e" stroke-width="0.16">375</text>
<path d="M199.60 395V398.2" stroke="#1a1a1a" stroke-width="1"/>
<text x="199.60" y="405.80" text-anchor="middle" font-size="7.2" font-family="Liberation Serif, serif" fill="#1e1e1e" stroke="#1e1e1e" stroke-width="0.16">400</text>
<text x="114.5" y="414.8" text-anchor="middle" font-size="7.3" font-family="Liberation Serif, serif" fill="#1e1e1e" stroke="#1e1e1e" stroke-width="0.16">Wavelength (nm)</text>
<text transform="translate(9.8 316) rotate(-90)" text-anchor="middle" font-size="7.3" font-family="Liberation Serif, serif" fill="#1e1e1e" stroke="#1e1e1e" stroke-width="0.16">Absorbance (a.u.)</text>
<text x="3.8" y="240.3" font-size="11.2" font-weight="bold" font-family="Liberation Serif, serif" fill="#111">C</text>
<text x="86.8" y="241.2" text-anchor="middle" font-size="9.5" font-weight="bold" font-family="Liberation Serif, serif" fill="#111">CAPE</text>
<path d="M261.4 386.6 C262.5 386.8 264.9 387.4 267.8 387.9 C270.7 388.4 273.5 389.1 278.5 389.6 C283.5 390.1 286.7 390.6 297.8 391.0 C308.9 391.4 322.0 391.9 345.0 392.2 C368.0 392.5 420.8 392.6 435.9 392.7" fill="none" stroke="#6cbcd8" stroke-width="1.1" stroke-linejoin="round" stroke-linecap="round"/>
<path d="M260.6 312.5 C260.9 312.7 261.9 312.5 262.5 313.8 C263.1 315.0 263.4 316.0 264.0 320.0 C264.6 324.0 265.0 333.1 266.0 337.6 C267.0 342.1 268.3 342.9 270.1 347.0 C271.9 351.1 274.4 358.3 276.9 361.9 C279.4 365.5 281.9 366.6 285.0 368.6 C288.1 370.6 291.8 372.2 295.8 374.0 C299.9 375.8 304.9 378.1 309.3 379.5 C313.7 380.9 316.1 381.4 322.0 382.2 C327.9 383.0 335.8 384.2 345.0 384.5 C354.2 384.8 368.6 384.1 377.1 384.2 C385.7 384.3 390.8 384.8 396.3 385.3 C401.8 385.8 403.4 386.9 410.0 387.4 C416.6 387.9 431.6 388.3 435.9 388.5" fill="none" stroke="#8d7450" stroke-width="1.1" stroke-linejoin="round" stroke-linecap="round"/>
<path d="M260.6 271.3 C261.0 271.5 262.5 269.8 263.1 272.5 C263.7 275.2 263.9 282.1 264.4 287.5 C264.9 292.9 265.2 299.6 266.2 305.0 C267.3 310.4 269.3 314.8 270.8 320.0 C272.3 325.2 274.0 331.5 275.5 336.2 C277.0 340.9 277.8 345.2 279.6 348.4 C281.4 351.5 284.3 353.3 286.3 355.1 C288.3 356.9 289.7 357.4 291.7 359.2 C293.7 361.0 296.0 363.9 298.5 365.9 C301.0 367.9 302.7 369.6 306.6 371.4 C310.5 373.2 315.6 375.4 322.0 376.8 C328.4 378.2 335.8 379.4 345.0 379.8 C354.2 380.2 368.6 379.3 377.1 379.5 C385.7 379.7 390.8 380.2 396.3 381.0 C401.8 381.8 403.4 383.2 410.0 384.2 C416.6 385.2 431.6 386.4 435.9 386.8" fill="none" stroke="#151515" stroke-width="1.5" stroke-linejoin="round" stroke-linecap="round"/>
<path d="M260.6 255.0 L262.5 256.3 L262.6 257.1 L262.7 258.0 L262.8 259.1 L262.9 260.4 L263.0 261.7 L263.1 263.1 L263.2 264.6 L263.3 266.0 L263.4 267.5 L263.5 268.9 L263.6 270.2 L263.7 271.4 L263.8 272.5 L263.9 274.0 L264.0 275.3 L264.2 276.5 L264.3 277.7 L264.5 278.7 L264.6 279.9 L264.8 281.1 L265.0 282.5 L265.1 283.6 L265.3 284.8 L265.4 286.1 L265.6 287.4 L265.8 288.7 L265.9 290.1 L266.1 291.4 L266.3 292.7 L266.5 294.0 L266.7 295.2 L266.9 296.3 L267.2 297.7 L267.6 299.0 L268.0 300.2 L268.3 301.3 L268.8 302.4 L269.2 303.6 L269.6 304.9 L270.0 306.3 L270.3 307.4 L270.6 308.6 L270.9 309.8 L271.2 311.0 L271.6 312.3 L271.9 313.6 L272.2 314.9 L272.5 316.2 L272.9 317.5 L273.2 318.7 L273.5 320.0 L273.8 321.2 L274.1 322.5 L274.4 323.8 L274.7 325.0 L274.9 326.3 L275.2 327.6 L275.5 328.8 L275.8 330.0 L276.2 331.2 L276.5 332.4 L276.9 333.5 L277.4 334.7 L277.8 335.9 L278.3 337.1 L278.9 338.3 L279.4 339.4 L280.0 340.5 L280.5 341.5 L281.1 342.5 L281.7 343.5 L282.3 344.3 L283.2 345.3 L284.2 346.2 L285.1 346.9 L286.2 347.5 L287.1 348.1 L288.1 348.8 L289.0 349.7 L289.7 350.6 L290.4 351.5 L291.0 352.5 L291.6 353.6 L292.2 354.6 L292.9 355.7 L293.6 356.8 L294.4 357.8 L295.2 358.7 L296.0 359.7 L296.9 360.6 L297.8 361.6 L298.8 362.6 L299.7 363.5 L300.6 364.2 L301.6 365.5 L302.5 365.6 L303.6 366.9 L304.7 367.2 L305.8 368.2 L306.9 368.3 L308.0 369.3 L309.3 369.3 L310.6 370.2 L311.7 370.1 L312.7 370.9 L313.7 370.7 L314.8 371.5 L316.0 371.3 L317.2 372.1 L318.6 371.9 L320.2 372.7 L322.0 372.4 L322.9 373.0 L323.9 372.8 L325.0 373.5 L326.1 373.1 L327.3 373.8 L328.5 373.6 L329.7 374.2 L330.9 374.0 L332.2 374.6 L333.5 374.3 L334.8 375.0 L336.1 374.7 L337.5 375.3 L338.8 375.0 L340.1 375.6 L341.3 375.3 L342.6 375.8 L343.8 375.4 L345.0 376.0 L346.3 375.6 L347.6 376.1 L348.9 375.6 L350.2 376.1 L351.5 375.6 L352.8 376.0 L354.1 375.4 L355.4 375.9 L356.7 375.2 L358.0 375.7 L359.2 375.1 L360.5 375.5 L361.7 375.0 L362.9 375.4 L364.1 374.8 L365.3 375.3 L366.4 374.8 L367.8 375.2 L369.1 374.8 L370.4 375.2 L371.7 374.8 L373.0 375.3 L374.3 374.9 L375.5 375.4 L376.7 374.9 L377.9 375.5 L379.1 375.0 L380.2 375.6 L381.3 375.1 L382.4 375.7 L383.5 375.3 L385.0 375.8 L386.3 375.4 L387.6 375.9 L388.9 375.6 L390.1 376.1 L391.3 375.7 L392.5 376.3 L393.8 376.0 L395.0 376.7 L396.3 376.5 L397.5 377.3 L398.6 377.1 L399.6 378.0 L400.7 377.8 L401.8 378.8 L402.9 378.8 L404.1 379.8 L405.4 379.7 L406.8 380.5 L408.3 380.5 L410.0 381.2 L411.0 380.9 L412.1 381.5 L413.3 381.2 L414.6 381.8 L415.9 381.4 L417.3 382.1 L418.7 381.7 L420.1 382.3 L421.6 381.9 L423.1 382.5 L424.5 382.2 L426.0 382.7 L427.4 382.3 L428.7 382.8 L430.0 382.5 L431.3 383.0 L432.4 382.6 L433.5 383.2 L434.4 382.7 L435.2 383.3 L435.9 382.8" fill="none" stroke="#f0a060" stroke-width="1.1" stroke-linejoin="round" stroke-linecap="round"/>
<path d="M260.6 287.5 C261.0 287.7 262.4 285.8 263.1 288.8 C263.8 291.7 264.5 300.1 265.0 305.0 C265.5 309.9 265.6 315.5 266.0 318.0 C266.4 320.5 266.3 317.0 267.4 320.0 C268.5 323.0 271.2 331.0 272.8 336.2 C274.4 341.4 275.1 347.3 276.9 351.1 C278.7 354.9 281.4 357.2 283.6 359.2 C285.9 361.2 288.1 361.4 290.4 363.2 C292.6 365.0 294.4 368.0 297.1 370.0 C299.8 372.0 302.5 373.8 306.6 375.4 C310.8 377.0 315.6 378.4 322.0 379.5 C328.4 380.6 335.8 381.6 345.0 382.0 C354.2 382.4 368.6 381.8 377.1 382.0 C385.7 382.2 390.8 382.4 396.3 383.1 C401.8 383.8 403.4 385.4 410.0 386.3 C416.6 387.2 431.6 388.1 435.9 388.5" fill="none" stroke="#9437c4" stroke-width="1.1" stroke-linejoin="round" stroke-linecap="round"/>
<path d="M260.6 263.0 C260.9 263.2 262.0 261.3 262.5 264.0 C263.0 266.7 263.2 274.3 263.8 279.0 C264.2 283.7 264.9 287.7 265.5 292.0 C266.1 296.3 266.4 300.3 267.5 305.0 C268.6 309.7 270.5 314.1 272.1 320.0 C273.7 325.9 275.0 335.4 276.9 340.3 C278.8 345.2 281.4 347.2 283.6 349.7 C285.9 352.2 288.1 352.9 290.4 355.1 C292.6 357.4 294.6 360.9 297.1 363.2 C299.6 365.4 301.1 366.8 305.2 368.6 C309.3 370.4 315.4 372.5 322.0 374.0 C328.6 375.5 335.8 377.0 345.0 377.5 C354.2 378.0 368.6 376.8 377.1 377.0 C385.7 377.2 390.8 377.5 396.3 378.5 C401.8 379.5 403.4 382.0 410.0 383.1 C416.6 384.2 431.6 384.9 435.9 385.3" fill="none" stroke="#5fae4a" stroke-width="1.1" stroke-linejoin="round" stroke-linecap="round"/>
<path d="M260.6 254.5 C260.9 254.8 262.0 253.2 262.5 256.0 C263.0 258.8 263.3 267.2 263.8 271.5 C264.2 275.8 264.5 277.5 265.0 281.5 C265.5 285.5 266.1 291.3 266.9 295.3 C267.7 299.3 268.9 301.4 270.0 305.3 C271.1 309.2 272.4 314.5 273.5 319.0 C274.6 323.5 275.4 328.4 276.9 332.5 C278.4 336.6 280.3 340.6 282.3 343.3 C284.3 346.0 287.0 346.4 289.0 348.7 C291.0 350.9 292.1 354.1 294.4 356.8 C296.6 359.5 299.8 362.9 302.5 364.9 C305.2 366.9 307.4 367.9 310.6 369.0 C313.9 370.1 316.3 370.8 322.0 371.7 C327.7 372.6 337.6 374.2 345.0 374.5 C352.4 374.8 360.0 373.6 366.4 373.5 C372.8 373.4 378.5 373.8 383.5 374.0 C388.5 374.2 391.9 374.2 396.3 375.0 C400.7 375.8 403.4 377.9 410.0 379.0 C416.6 380.1 431.6 381.1 435.9 381.5" fill="none" stroke="#c8604a" stroke-width="1.1" stroke-linejoin="round" stroke-linecap="round"/>
<path d="M260.6 245.0 L261.2 246.5 L261.9 248.1 L263.1 248.3 L263.2 249.0 L263.3 250.0 L263.4 251.0 L263.5 252.2 L263.7 253.5 L263.8 254.9 L263.9 256.4 L264.0 257.9 L264.1 259.4 L264.3 261.0 L264.4 262.5 L264.5 263.6 L264.6 264.9 L264.7 266.2 L264.9 267.5 L265.0 268.9 L265.1 270.4 L265.3 271.8 L265.4 273.2 L265.5 274.6 L265.7 275.9 L265.8 277.2 L265.9 278.3 L266.0 279.4 L266.1 280.4 L266.2 281.3 L266.6 283.6 L266.8 284.7 L267.1 285.5 L267.5 286.3 L268.2 287.3 L269.0 288.2 L270.0 290.0 L270.3 290.9 L270.7 291.9 L271.0 292.9 L271.4 294.1 L271.8 295.4 L272.1 296.7 L272.5 298.1 L272.9 299.5 L273.3 301.0 L273.8 302.5 L274.0 303.5 L274.3 304.7 L274.6 305.8 L274.9 307.1 L275.1 308.3 L275.4 309.6 L275.7 310.9 L276.0 312.2 L276.3 313.4 L276.6 314.7 L276.9 315.9 L277.2 317.0 L277.6 318.1 L277.9 319.1 L278.2 320.0 L278.8 321.5 L279.5 322.7 L280.2 323.8 L280.8 324.8 L281.5 325.7 L282.2 326.5 L282.9 327.3 L283.6 328.1 L284.5 329.1 L285.3 330.0 L286.2 330.8 L287.1 331.6 L288.0 332.5 L289.0 333.5 L289.8 334.4 L290.6 335.4 L291.5 336.4 L292.3 337.5 L293.2 338.5 L294.1 339.6 L294.9 340.6 L295.8 341.6 L296.8 342.7 L297.7 343.7 L298.7 344.7 L299.6 345.7 L300.6 346.6 L301.5 347.6 L302.5 348.4 L303.6 349.3 L304.8 350.1 L305.9 350.9 L307.0 351.7 L308.2 352.4 L309.3 353.1 L310.4 353.8 L311.6 354.6 L312.8 355.3 L313.9 356.0 L315.0 356.6 L316.1 357.2 L317.2 357.7 L318.1 358.4 L319.1 358.1 L320.3 359.2 L322.0 358.9 L322.9 359.7 L324.0 359.2 L325.1 360.2 L326.4 359.6 L327.6 360.5 L329.0 360.1 L330.3 361.0 L331.6 360.4 L332.9 361.4 L334.1 360.9 L335.3 361.7 L336.3 361.1 L337.8 362.1 L339.1 361.5 L340.3 362.6 L341.4 362.0 L342.5 362.7 L343.7 362.3 L345.0 363.2 L346.2 362.6 L347.5 363.4 L348.9 362.9 L350.2 363.7 L351.6 363.3 L353.0 364.1 L354.3 363.5 L355.7 364.2 L357.0 363.6 L358.4 364.3 L359.7 363.6 L361.0 364.2 L362.4 363.6 L363.7 364.3 L365.1 363.5 L366.4 364.3 L367.8 363.7 L369.2 364.6 L370.6 363.9 L372.0 364.8 L373.4 364.4 L374.7 365.2 L376.0 364.5 L377.1 365.3 L378.6 364.3 L379.7 364.5 L380.7 363.2 L381.9 363.4 L383.5 362.4 L384.5 363.2 L385.7 362.4 L386.9 363.2 L388.3 362.6 L389.6 363.4 L391.0 362.9 L392.4 363.8 L393.8 363.2 L395.1 364.0 L396.3 363.5 L397.6 364.5 L398.9 363.9 L400.1 364.8 L401.3 364.4 L402.5 365.3 L403.7 364.8 L404.8 365.8 L405.9 365.4 L407.0 366.4 L408.3 366.2 L409.5 367.2 L410.7 367.1 L411.9 368.5 L413.1 368.1 L414.3 369.3 L415.6 368.9 L416.8 369.7 L418.2 368.8 L419.5 369.6 L420.9 368.7 L422.3 369.3 L423.7 368.5 L425.0 369.1 L426.3 368.4 L427.6 369.4 L429.0 368.9 L430.4 370.0 L431.8 369.7 L433.1 370.9 L434.2 370.5 L435.2 371.5 L435.9 370.9" fill="none" stroke="#2b2b9e" stroke-width="1.1" stroke-linejoin="round" stroke-linecap="round"/>
<path d="M260.8 237.3V395" fill="none" stroke="#1a1a1a" stroke-width="1.1"/>
<path d="M260.3 395H436.5" fill="none" stroke="#1a1a1a" stroke-width="1.1"/>
<path d="M257.3 395.00H260.8" stroke="#1a1a1a" stroke-width="1"/>
<text x="255.60000000000002" y="397.40" text-anchor="end" font-size="7.2" font-family="Liberation Serif, serif" fill="#1e1e1e" stroke="#1e1e1e" stroke-width="0.16">0.0</text>
<path d="M257.3 372.54H260.8" stroke="#1a1a1a" stroke-width="1"/>
<text x="255.60000000000002" y="374.94" text-anchor="end" font-size="7.2" font-family="Liberation Serif, serif" fill="#1e1e1e" stroke="#1e1e1e" stroke-width="0.16">0.2</text>
<path d="M257.3 350.09H260.8" stroke="#1a1a1a" stroke-width="1"/>
<text x="255.60000000000002" y="352.49" text-anchor="end" font-size="7.2" font-family="Liberation Serif, serif" fill="#1e1e1e" stroke="#1e1e1e" stroke-width="0.16">0.4</text>
<path d="M257.3 327.63H260.8" stroke="#1a1a1a" stroke-width="1"/>
<text x="255.60000000000002" y="330.03" text-anchor="end" font-size="7.2" font-family="Liberation Serif, serif" fill="#1e1e1e" stroke="#1e1e1e" stroke-width="0.16">0.6</text>
<path d="M257.3 305.17H260.8" stroke="#1a1a1a" stroke-width="1"/>
<text x="255.60000000000002" y="307.57" text-anchor="end" font-size="7.2" font-family="Liberation Serif, serif" fill="#1e1e1e" stroke="#1e1e1e" stroke-width="0.16">0.8</text>
<path d="M257.3 282.71H260.8" stroke="#1a1a1a" stroke-width="1"/>
<text x="255.60000000000002" y="285.11" text-anchor="end" font-size="7.2" font-family="Liberation Serif, serif" fill="#1e1e1e" stroke="#1e1e1e" stroke-width="0.16">1.0</text>
<path d="M257.3 260.26H260.8" stroke="#1a1a1a" stroke-width="1"/>
<text x="255.60000000000002" y="262.66" text-anchor="end" font-size="7.2" font-family="Liberation Serif, serif" fill="#1e1e1e" stroke="#1e1e1e" stroke-width="0.16">1.2</text>
<path d="M257.3 237.80H260.8" stroke="#1a1a1a" stroke-width="1"/>
<text x="255.60000000000002" y="240.20" text-anchor="end" font-size="7.2" font-family="Liberation Serif, serif" fill="#1e1e1e" stroke="#1e1e1e" stroke-width="0.16">1.4</text>
<path d="M257.3 383.77H260.8" stroke="#1a1a1a" stroke-width="1"/>
<path d="M257.3 361.31H260.8" stroke="#1a1a1a" stroke-width="1"/>
<path d="M257.3 338.86H260.8" stroke="#1a1a1a" stroke-width="1"/>
<path d="M257.3 316.40H260.8" stroke="#1a1a1a" stroke-width="1"/>
<path d="M257.3 293.94H260.8" stroke="#1a1a1a" stroke-width="1"/>
<path d="M257.3 271.49H260.8" stroke="#1a1a1a" stroke-width="1"/>
<path d="M257.3 249.03H260.8" stroke="#1a1a1a" stroke-width="1"/>
<path d="M260.80 395V398.2" stroke="#1a1a1a" stroke-width="1"/>
<text x="260.80" y="405.80" text-anchor="middle" font-size="7.2" font-family="Liberation Serif, serif" fill="#1e1e1e" stroke="#1e1e1e" stroke-width="0.16">250</text>
<path d="M290.00 395V398.2" stroke="#1a1a1a" stroke-width="1"/>
<text x="290.00" y="405.80" text-anchor="middle" font-size="7.2" font-family="Liberation Serif, serif" fill="#1e1e1e" stroke="#1e1e1e" stroke-width="0.16">275</text>
<path d="M319.20 395V398.2" stroke="#1a1a1a" stroke-width="1"/>
<text x="319.20" y="405.80" text-anchor="middle" font-size="7.2" font-family="Liberation Serif, serif" fill="#1e1e1e" stroke="#1e1e1e" stroke-width="0.16">300</text>
<path d="M348.40 395V398.2" stroke="#1a1a1a" stroke-width="1"/>
<text x="348.40" y="405.80" text-anchor="middle" font-size="7.2" font-family="Liberation Serif, serif" fill="#1e1e1e" stroke="#1e1e1e" stroke-width="0.16">325</text>
<path d="M377.60 395V398.2" stroke="#1a1a1a" stroke-width="1"/>
<text x="377.60" y="405.80" text-anchor="middle" font-size="7.2" font-family="Liberation Serif, serif" fill="#1e1e1e" stroke="#1e1e1e" stroke-width="0.16">350</text>
<path d="M406.80 395V398.2" stroke="#1a1a1a" stroke-width="1"/>
<text x="406.80" y="405.80" text-anchor="middle" font-size="7.2" font-family="Liberation Serif, serif" fill="#1e1e1e" stroke="#1e1e1e" stroke-width="0.16">375</text>
<path d="M436.00 395V398.2" stroke="#1a1a1a" stroke-width="1"/>
<text x="436.00" y="405.80" text-anchor="middle" font-size="7.2" font-family="Liberation Serif, serif" fill="#1e1e1e" stroke="#1e1e1e" stroke-width="0.16">400</text>
<text x="349" y="414.6" text-anchor="middle" font-size="7.3" font-family="Liberation Serif, serif" fill="#1e1e1e" stroke="#1e1e1e" stroke-width="0.16">Wavelength (nm)</text>
<text transform="translate(240.5 316) rotate(-90)" text-anchor="middle" font-size="7.3" font-family="Liberation Serif, serif" fill="#1e1e1e" stroke="#1e1e1e" stroke-width="0.16">Absorbance (a.u.)</text>
<text x="234.6" y="240.3" font-size="11.2" font-weight="bold" font-family="Liberation Serif, serif" fill="#111">D</text>
<text x="323.1" y="241.2" text-anchor="middle" font-size="9.5" font-weight="bold" font-family="Liberation Serif, serif" fill="#111">EA</text>
<path d="M29.5 564.6 C30.4 566.8 33.1 574.8 35.1 577.8 C37.1 580.8 39.2 580.6 41.2 582.8 C43.2 585.0 44.9 588.7 47.3 591.0 C49.7 593.3 50.7 595.3 55.4 596.6 C60.1 597.9 65.8 598.1 75.7 598.7 C85.6 599.3 94.1 599.6 115.0 600.1 C135.9 600.6 186.6 601.7 200.9 602.0" fill="none" stroke="#6cbcd8" stroke-width="1.1" stroke-linejoin="round" stroke-linecap="round"/>
<path d="M29.5 554.5 C30.4 556.9 33.1 564.6 35.0 569.0 C36.9 573.4 39.0 577.0 41.0 581.0 C43.0 585.0 44.6 590.3 47.3 593.0 C50.0 595.7 49.9 596.0 57.0 597.0 C64.1 598.0 80.3 598.8 90.0 599.1 C99.7 599.4 96.5 598.5 115.0 598.9 C133.5 599.2 186.6 600.8 200.9 601.2" fill="none" stroke="#8d7450" stroke-width="1.1" stroke-linejoin="round" stroke-linecap="round"/>
<path d="M29.5 553.4 C30.4 555.8 33.1 563.6 35.0 568.0 C36.9 572.4 39.0 576.0 41.0 580.0 C43.0 584.0 44.6 589.3 47.3 592.0 C50.0 594.7 49.9 594.9 57.0 596.0 C64.1 597.1 80.3 598.1 90.0 598.7 C99.7 599.3 104.7 599.2 115.0 599.5 C125.3 599.8 137.7 600.2 152.0 600.6 C166.3 601.0 192.8 601.5 200.9 601.7" fill="none" stroke="#151515" stroke-width="1.5" stroke-linejoin="round" stroke-linecap="round"/>
<path d="M29.5 552.4 C30.4 554.7 33.1 561.7 35.0 566.0 C36.9 570.3 39.0 573.8 41.0 578.0 C43.0 582.2 44.6 588.2 47.3 591.0 C50.0 593.8 49.9 594.0 57.0 595.0 C64.1 596.0 80.3 596.6 90.0 597.0 C99.7 597.4 104.7 597.0 115.0 597.4 C125.3 597.8 137.7 599.0 152.0 599.5 C166.3 600.0 192.8 600.4 200.9 600.6" fill="none" stroke="#f0a060" stroke-width="1.1" stroke-linejoin="round" stroke-linecap="round"/>
<path d="M29.5 548.4 C30.4 550.8 33.1 558.6 35.0 563.0 C36.9 567.4 39.0 570.5 41.0 575.0 C43.0 579.5 44.6 586.7 47.3 589.9 C50.0 593.1 49.9 593.1 57.0 594.0 C64.1 594.9 80.3 594.9 90.0 595.0 C99.7 595.1 108.2 594.5 115.0 594.5 C121.8 594.5 124.8 594.7 131.0 595.3 C137.2 595.9 140.3 597.5 152.0 598.0 C163.7 598.5 192.8 598.4 200.9 598.5" fill="none" stroke="#9437c4" stroke-width="1.1" stroke-linejoin="round" stroke-linecap="round"/>
<path d="M29.5 550.4 C30.4 552.8 33.1 560.9 35.0 565.0 C36.9 569.1 39.0 571.2 41.0 575.0 C43.0 578.8 44.9 585.2 47.3 587.9 C49.7 590.6 50.7 590.6 55.4 591.4 C60.1 592.2 68.9 592.5 75.7 592.6 C82.5 592.7 89.5 592.2 96.0 592.0 C102.5 591.8 109.8 591.3 115.0 591.5 C120.2 591.7 122.2 592.3 127.0 593.1 C131.8 593.9 138.0 595.4 144.0 596.3 C150.0 597.2 153.5 598.0 163.0 598.5 C172.5 599.0 194.6 599.3 200.9 599.5" fill="none" stroke="#5fae4a" stroke-width="1.1" stroke-linejoin="round" stroke-linecap="round"/>
<path d="M29.5 545.3 C30.4 548.2 33.1 558.2 35.1 562.6 C37.1 567.0 39.2 568.7 41.2 571.7 C43.2 574.7 45.3 578.5 47.3 580.8 C49.3 583.1 51.0 584.4 53.4 585.3 C55.8 586.1 58.8 586.0 61.5 585.9 C64.2 585.8 65.5 585.0 69.6 584.5 C73.6 584.0 80.4 583.5 85.8 583.2 C91.2 582.9 98.0 582.9 102.0 582.8 C106.0 582.7 106.9 582.5 110.0 582.4 C113.1 582.3 117.1 581.8 120.7 582.4 C124.3 583.0 127.8 584.9 131.4 586.1 C135.0 587.4 138.5 588.6 142.1 589.9 C145.7 591.2 148.9 592.8 152.8 593.8 C156.7 594.8 157.6 595.2 165.6 595.9 C173.6 596.6 195.0 597.6 200.9 598.0" fill="none" stroke="#c8604a" stroke-width="1.1" stroke-linejoin="round" stroke-linecap="round"/>
<path d="M29.5 539.3 C29.9 540.5 31.2 542.9 32.1 546.4 C33.0 549.9 33.6 556.8 35.1 560.5 C36.6 564.2 39.2 566.0 41.2 568.7 C43.2 571.4 45.3 575.0 47.3 576.8 C49.3 578.6 51.0 579.4 53.4 579.4 C55.8 579.4 58.5 577.9 61.5 576.8 C64.5 575.7 68.2 573.9 71.6 572.7 C75.0 571.5 78.1 570.3 81.8 569.7 C85.5 569.1 89.9 569.8 93.9 569.3 C98.0 568.8 103.4 567.0 106.1 566.6 C108.8 566.2 107.9 566.8 110.0 566.8 C112.1 566.8 115.8 566.1 118.6 566.8 C121.4 567.4 124.2 569.2 127.1 570.7 C129.9 572.2 132.8 573.9 135.7 576.0 C138.5 578.1 141.3 581.2 144.2 583.5 C147.0 585.8 149.6 587.9 152.8 589.5 C156.0 591.1 159.6 592.1 163.5 593.1 C167.4 594.1 170.1 594.6 176.3 595.3 C182.5 596.0 196.8 597.0 200.9 597.4" fill="none" stroke="#2b2b9e" stroke-width="1.1" stroke-linejoin="round" stroke-linecap="round"/>
<path d="M29.3 450.0V607.8" fill="none" stroke="#1a1a1a" stroke-width="1.1"/>
<path d="M28.8 607.8H202.4" fill="none" stroke="#1a1a1a" stroke-width="1.1"/>
<path d="M25.8 607.80H29.3" stroke="#1a1a1a" stroke-width="1"/>
<text x="24.1" y="610.20" text-anchor="end" font-size="7.2" font-family="Liberation Serif, serif" fill="#1e1e1e" stroke="#1e1e1e" stroke-width="0.16">0.0</text>
<path d="M25.8 585.33H29.3" stroke="#1a1a1a" stroke-width="1"/>
<text x="24.1" y="587.73" text-anchor="end" font-size="7.2" font-family="Liberation Serif, serif" fill="#1e1e1e" stroke="#1e1e1e" stroke-width="0.16">0.2</text>
<path d="M25.8 562.86H29.3" stroke="#1a1a1a" stroke-width="1"/>
<text x="24.1" y="565.26" text-anchor="end" font-size="7.2" font-family="Liberation Serif, serif" fill="#1e1e1e" stroke="#1e1e1e" stroke-width="0.16">0.4</text>
<path d="M25.8 540.39H29.3" stroke="#1a1a1a" stroke-width="1"/>
<text x="24.1" y="542.79" text-anchor="end" font-size="7.2" font-family="Liberation Serif, serif" fill="#1e1e1e" stroke="#1e1e1e" stroke-width="0.16">0.6</text>
<path d="M25.8 517.91H29.3" stroke="#1a1a1a" stroke-width="1"/>
<text x="24.1" y="520.31" text-anchor="end" font-size="7.2" font-family="Liberation Serif, serif" fill="#1e1e1e" stroke="#1e1e1e" stroke-width="0.16">0.8</text>
<path d="M25.8 495.44H29.3" stroke="#1a1a1a" stroke-width="1"/>
<text x="24.1" y="497.84" text-anchor="end" font-size="7.2" font-family="Liberation Serif, serif" fill="#1e1e1e" stroke="#1e1e1e" stroke-width="0.16">1.0</text>
<path d="M25.8 472.97H29.3" stroke="#1a1a1a" stroke-width="1"/>
<text x="24.1" y="475.37" text-anchor="end" font-size="7.2" font-family="Liberation Serif, serif" fill="#1e1e1e" stroke="#1e1e1e" stroke-width="0.16">1.2</text>
<path d="M25.8 450.50H29.3" stroke="#1a1a1a" stroke-width="1"/>
<text x="24.1" y="452.90" text-anchor="end" font-size="7.2" font-family="Liberation Serif, serif" fill="#1e1e1e" stroke="#1e1e1e" stroke-width="0.16">1.4</text>
<path d="M25.8 596.56H29.3" stroke="#1a1a1a" stroke-width="1"/>
<path d="M25.8 574.09H29.3" stroke="#1a1a1a" stroke-width="1"/>
<path d="M25.8 551.62H29.3" stroke="#1a1a1a" stroke-width="1"/>
<path d="M25.8 529.15H29.3" stroke="#1a1a1a" stroke-width="1"/>
<path d="M25.8 506.68H29.3" stroke="#1a1a1a" stroke-width="1"/>
<path d="M25.8 484.21H29.3" stroke="#1a1a1a" stroke-width="1"/>
<path d="M25.8 461.74H29.3" stroke="#1a1a1a" stroke-width="1"/>
<path d="M29.30 607.8V611.0" stroke="#1a1a1a" stroke-width="1"/>
<text x="29.30" y="618.60" text-anchor="middle" font-size="7.2" font-family="Liberation Serif, serif" fill="#1e1e1e" stroke="#1e1e1e" stroke-width="0.16">250</text>
<path d="M58.07 607.8V611.0" stroke="#1a1a1a" stroke-width="1"/>
<text x="58.07" y="618.60" text-anchor="middle" font-size="7.2" font-family="Liberation Serif, serif" fill="#1e1e1e" stroke="#1e1e1e" stroke-width="0.16">275</text>
<path d="M86.83 607.8V611.0" stroke="#1a1a1a" stroke-width="1"/>
<text x="86.83" y="618.60" text-anchor="middle" font-size="7.2" font-family="Liberation Serif, serif" fill="#1e1e1e" stroke="#1e1e1e" stroke-width="0.16">300</text>
<path d="M115.60 607.8V611.0" stroke="#1a1a1a" stroke-width="1"/>
<text x="115.60" y="618.60" text-anchor="middle" font-size="7.2" font-family="Liberation Serif, serif" fill="#1e1e1e" stroke="#1e1e1e" stroke-width="0.16">325</text>
<path d="M144.37 607.8V611.0" stroke="#1a1a1a" stroke-width="1"/>
<text x="144.37" y="618.60" text-anchor="middle" font-size="7.2" font-family="Liberation Serif, serif" fill="#1e1e1e" stroke="#1e1e1e" stroke-width="0.16">350</text>
<path d="M173.13 607.8V611.0" stroke="#1a1a1a" stroke-width="1"/>
<text x="173.13" y="618.60" text-anchor="middle" font-size="7.2" font-family="Liberation Serif, serif" fill="#1e1e1e" stroke="#1e1e1e" stroke-width="0.16">375</text>
<path d="M201.90 607.8V611.0" stroke="#1a1a1a" stroke-width="1"/>
<text x="201.90" y="618.60" text-anchor="middle" font-size="7.2" font-family="Liberation Serif, serif" fill="#1e1e1e" stroke="#1e1e1e" stroke-width="0.16">400</text>
<text x="117" y="627" text-anchor="middle" font-size="7.3" font-family="Liberation Serif, serif" fill="#1e1e1e" stroke="#1e1e1e" stroke-width="0.16">Wavelength (nm)</text>
<text transform="translate(9.8 529) rotate(-90)" text-anchor="middle" font-size="7.3" font-family="Liberation Serif, serif" fill="#1e1e1e" stroke="#1e1e1e" stroke-width="0.16">Absorbance (a.u.)</text>
<text x="4.6" y="451.6" font-size="11.2" font-weight="bold" font-family="Liberation Serif, serif" fill="#111">E</text>
<text x="87.1" y="452.7" text-anchor="middle" font-size="9.5" font-weight="bold" font-family="Liberation Serif, serif" fill="#111">CAPE</text>
<path d="M262.4 571.0 C262.8 572.2 264.4 576.1 265.0 578.0 C265.6 579.9 265.0 580.7 266.2 582.5 C267.5 584.3 270.2 586.7 272.5 588.8 C274.8 590.8 276.2 593.3 280.0 595.0 C283.8 596.7 284.2 597.9 295.0 598.8 C305.8 599.6 322.1 599.7 345.0 600.2 C367.9 600.7 417.8 601.7 432.3 602.0" fill="none" stroke="#6cbcd8" stroke-width="1.1" stroke-linejoin="round" stroke-linecap="round"/>
<path d="M261.5 544.7 C261.8 545.9 262.5 548.8 263.2 551.7 C264.0 554.6 265.0 559.3 265.9 562.2 C266.8 565.1 267.5 566.6 268.5 569.2 C269.5 571.8 270.5 574.9 272.0 578.0 C273.5 581.1 275.3 585.6 277.5 588.0 C279.7 590.4 282.1 591.1 285.0 592.5 C287.9 593.9 285.0 595.1 295.0 596.2 C305.0 597.4 330.0 598.6 345.0 599.2 C360.0 599.8 370.4 599.6 385.0 600.0 C399.6 600.4 424.4 601.2 432.3 601.5" fill="none" stroke="#8d7450" stroke-width="1.1" stroke-linejoin="round" stroke-linecap="round"/>
<path d="M261.5 541.2 C261.8 541.8 262.7 542.4 263.2 544.7 C263.8 547.0 264.3 552.0 265.0 555.2 C265.7 558.4 266.6 561.4 267.6 564.0 C268.6 566.6 269.9 568.7 271.1 571.0 C272.3 573.3 273.5 575.8 274.6 578.0 C275.7 580.2 275.8 582.3 277.5 584.5 C279.2 586.7 282.1 589.7 285.0 591.2 C287.9 592.8 288.9 592.7 295.0 593.8 C301.1 594.8 313.6 596.8 321.9 597.6 C330.2 598.4 334.5 598.4 345.0 598.8 C355.5 599.1 370.4 599.3 385.0 599.7 C399.6 600.1 424.4 601.0 432.3 601.3" fill="none" stroke="#151515" stroke-width="1.5" stroke-linejoin="round" stroke-linecap="round"/>
<path d="M261.5 545.5 C261.8 546.7 262.5 549.6 263.2 552.5 C264.0 555.4 265.0 560.1 265.9 563.0 C266.8 565.9 267.5 567.4 268.5 570.0 C269.5 572.6 270.5 575.4 272.0 578.5 C273.5 581.6 275.3 586.1 277.5 588.5 C279.7 590.9 282.1 591.5 285.0 592.8 C287.9 594.1 285.0 595.5 295.0 596.5 C305.0 597.5 330.0 598.5 345.0 599.0 C360.0 599.5 370.4 599.4 385.0 599.8 C399.6 600.2 424.4 601.0 432.3 601.2" fill="none" stroke="#f0a060" stroke-width="1.1" stroke-linejoin="round" stroke-linecap="round"/>
<path d="M261.5 523.5 C261.9 524.8 263.2 528.1 264.1 531.5 C265.0 534.9 265.7 540.8 266.8 544.0 C267.8 547.2 269.1 548.2 270.2 550.5 C271.4 552.8 272.7 555.5 273.8 558.0 C274.8 560.5 275.6 563.4 276.8 565.7 C278.0 568.0 278.8 570.3 280.7 571.9 C282.6 573.5 285.5 574.2 288.0 575.4 C290.5 576.6 292.2 577.1 295.5 578.9 C298.8 580.7 302.6 584.0 307.7 586.0 C312.8 588.0 319.8 589.9 326.0 591.1 C332.2 592.4 338.9 593.0 345.0 593.5 C351.1 594.0 355.8 594.0 362.5 594.0 C369.2 594.0 378.6 593.5 385.0 593.6 C391.4 593.7 395.9 593.9 400.8 594.5 C405.7 595.1 409.1 596.6 414.3 597.4 C419.6 598.1 429.3 598.7 432.3 599.0" fill="none" stroke="#9437c4" stroke-width="1.1" stroke-linejoin="round" stroke-linecap="round"/>
<path d="M261.5 522.9 C261.9 524.2 263.2 527.4 264.1 530.7 C265.0 534.1 265.7 539.9 266.8 543.0 C267.8 546.1 269.1 546.9 270.2 549.1 C271.4 551.3 272.7 553.6 273.8 556.1 C274.8 558.6 275.6 562.0 276.8 564.0 C278.0 566.0 278.8 567.2 280.7 568.4 C282.6 569.6 286.1 570.4 288.0 571.0 C289.9 571.6 290.1 570.5 292.0 572.0 C293.9 573.5 296.3 577.5 299.6 579.9 C302.9 582.3 307.1 584.9 311.8 586.6 C316.5 588.3 322.5 589.1 328.0 590.1 C333.5 591.1 339.2 592.2 345.0 592.6 C350.8 593.0 355.8 592.5 362.5 592.3 C369.2 592.1 378.6 591.3 385.0 591.4 C391.4 591.5 395.9 592.1 400.8 592.9 C405.7 593.7 409.1 595.3 414.3 596.3 C419.6 597.2 429.3 598.2 432.3 598.6" fill="none" stroke="#5fae4a" stroke-width="1.1" stroke-linejoin="round" stroke-linecap="round"/>
<path d="M261.5 513.2 C261.8 514.1 262.7 515.7 263.2 518.5 C263.8 521.3 264.4 526.8 265.0 529.9 C265.6 533.0 265.7 534.4 266.8 536.9 C267.8 539.4 269.6 541.9 271.1 544.7 C272.6 547.5 274.3 551.2 275.5 553.5 C276.7 555.8 276.9 557.2 278.1 558.7 C279.3 560.2 280.9 561.3 282.5 562.2 C284.1 563.1 286.5 563.4 288.0 564.0 C289.5 564.6 289.9 564.4 291.5 566.0 C293.1 567.6 294.9 571.2 297.6 573.9 C300.3 576.6 303.6 580.0 307.7 582.0 C311.8 584.0 316.5 584.8 321.9 586.0 C327.3 587.2 333.2 588.9 340.0 589.5 C346.8 590.1 355.0 589.7 362.5 589.5 C370.0 589.3 378.6 588.2 385.0 588.4 C391.4 588.6 395.9 589.8 400.8 590.7 C405.7 591.7 409.1 593.2 414.3 594.1 C419.6 595.0 429.3 595.9 432.3 596.3" fill="none" stroke="#c8604a" stroke-width="1.1" stroke-linejoin="round" stroke-linecap="round"/>
<path d="M261.1 483.9 L261.6 484.6 L262.4 485.6 L263.1 487.3 L263.3 488.2 L263.6 489.2 L263.8 490.4 L264.1 491.7 L264.3 493.0 L264.6 494.3 L264.8 495.6 L265.1 496.8 L265.4 498.0 L265.6 499.3 L265.9 500.5 L266.1 501.8 L266.4 503.0 L266.6 504.1 L266.9 505.2 L267.2 506.2 L267.7 507.5 L268.2 508.5 L268.7 509.4 L269.3 510.4 L269.9 511.6 L270.3 512.6 L270.8 513.8 L271.2 515.0 L271.7 516.2 L272.2 517.5 L272.7 518.8 L273.2 520.1 L273.6 521.2 L274.1 522.4 L274.5 523.6 L274.9 524.9 L275.4 526.1 L276.0 527.2 L276.6 528.3 L277.3 529.3 L278.1 530.2 L279.1 531.1 L280.1 531.9 L281.2 532.6 L282.3 533.3 L283.4 534.0 L284.5 534.7 L285.4 535.3 L286.5 536.1 L287.6 536.7 L288.6 537.3 L289.5 537.9 L290.5 538.6 L291.5 539.4 L292.4 540.3 L293.2 541.2 L294.0 542.2 L294.8 543.3 L295.7 544.4 L296.6 545.5 L297.6 546.5 L298.5 547.4 L299.4 548.3 L300.4 549.0 L301.4 550.4 L302.4 550.7 L303.5 552.1 L304.6 552.5 L305.7 553.8 L306.7 554.1 L307.8 555.3 L308.9 555.6 L310.0 556.7 L311.2 556.9 L312.4 558.1 L313.5 558.3 L314.7 559.3 L315.8 559.5 L317.1 560.5 L318.3 560.6 L319.6 561.5 L320.9 561.4 L322.2 562.3 L323.5 562.3 L324.7 563.0 L326.0 562.8 L327.3 563.6 L328.6 563.4 L329.8 564.1 L331.1 563.8 L332.4 564.4 L333.7 564.1 L334.9 564.7 L336.1 564.5 L337.4 565.2 L338.7 565.0 L340.0 565.7 L341.3 565.5 L342.5 566.2 L343.8 565.9 L345.0 566.6 L346.2 566.3 L347.3 566.8 L348.4 566.4 L349.5 567.0 L350.7 566.6 L352.0 567.1 L353.5 566.7 L354.5 567.4 L355.6 566.9 L356.7 567.6 L357.9 567.2 L359.0 567.9 L360.3 567.5 L361.5 568.1 L362.9 567.7 L364.2 568.4 L365.6 567.9 L367.0 568.5 L368.1 568.0 L369.2 568.4 L370.3 567.9 L371.5 568.3 L372.7 567.9 L374.0 568.2 L375.2 567.7 L376.5 568.1 L377.7 567.5 L379.0 567.9 L380.2 567.4 L381.5 567.9 L382.7 567.3 L383.9 567.7 L385.0 567.3 L386.3 567.7 L387.6 567.3 L388.9 567.8 L390.2 567.3 L391.4 567.9 L392.7 567.4 L393.9 567.9 L395.2 567.5 L396.3 568.1 L397.5 567.6 L398.6 568.2 L399.7 567.8 L400.8 568.4 L402.2 568.1 L403.4 568.9 L404.6 568.6 L405.6 569.3 L406.7 569.2 L407.8 569.9 L409.1 569.6 L410.5 570.4 L412.1 570.1 L413.2 570.8 L414.3 570.4 L415.6 571.0 L417.0 570.6 L418.4 571.2 L419.9 570.9 L421.4 571.5 L422.9 571.2 L424.4 571.7 L425.8 571.3 L427.2 571.8 L428.5 571.5 L429.6 572.0 L430.7 571.7 L431.6 572.2 L432.3 571.8" fill="none" stroke="#2b2b9e" stroke-width="1.1" stroke-linejoin="round" stroke-linecap="round"/>
<path d="M260.9 450.2V607.8" fill="none" stroke="#1a1a1a" stroke-width="1.1"/>
<path d="M260.4 607.8H433.4" fill="none" stroke="#1a1a1a" stroke-width="1.1"/>
<path d="M257.4 607.80H260.9" stroke="#1a1a1a" stroke-width="1"/>
<text x="255.7" y="610.20" text-anchor="end" font-size="7.2" font-family="Liberation Serif, serif" fill="#1e1e1e" stroke="#1e1e1e" stroke-width="0.16">0.0</text>
<path d="M257.4 585.36H260.9" stroke="#1a1a1a" stroke-width="1"/>
<text x="255.7" y="587.76" text-anchor="end" font-size="7.2" font-family="Liberation Serif, serif" fill="#1e1e1e" stroke="#1e1e1e" stroke-width="0.16">0.2</text>
<path d="M257.4 562.91H260.9" stroke="#1a1a1a" stroke-width="1"/>
<text x="255.7" y="565.31" text-anchor="end" font-size="7.2" font-family="Liberation Serif, serif" fill="#1e1e1e" stroke="#1e1e1e" stroke-width="0.16">0.4</text>
<path d="M257.4 540.47H260.9" stroke="#1a1a1a" stroke-width="1"/>
<text x="255.7" y="542.87" text-anchor="end" font-size="7.2" font-family="Liberation Serif, serif" fill="#1e1e1e" stroke="#1e1e1e" stroke-width="0.16">0.6</text>
<path d="M257.4 518.03H260.9" stroke="#1a1a1a" stroke-width="1"/>
<text x="255.7" y="520.43" text-anchor="end" font-size="7.2" font-family="Liberation Serif, serif" fill="#1e1e1e" stroke="#1e1e1e" stroke-width="0.16">0.8</text>
<path d="M257.4 495.59H260.9" stroke="#1a1a1a" stroke-width="1"/>
<text x="255.7" y="497.99" text-anchor="end" font-size="7.2" font-family="Liberation Serif, serif" fill="#1e1e1e" stroke="#1e1e1e" stroke-width="0.16">1.0</text>
<path d="M257.4 473.14H260.9" stroke="#1a1a1a" stroke-width="1"/>
<text x="255.7" y="475.54" text-anchor="end" font-size="7.2" font-family="Liberation Serif, serif" fill="#1e1e1e" stroke="#1e1e1e" stroke-width="0.16">1.2</text>
<path d="M257.4 450.70H260.9" stroke="#1a1a1a" stroke-width="1"/>
<text x="255.7" y="453.10" text-anchor="end" font-size="7.2" font-family="Liberation Serif, serif" fill="#1e1e1e" stroke="#1e1e1e" stroke-width="0.16">1.4</text>
<path d="M257.4 596.58H260.9" stroke="#1a1a1a" stroke-width="1"/>
<path d="M257.4 574.14H260.9" stroke="#1a1a1a" stroke-width="1"/>
<path d="M257.4 551.69H260.9" stroke="#1a1a1a" stroke-width="1"/>
<path d="M257.4 529.25H260.9" stroke="#1a1a1a" stroke-width="1"/>
<path d="M257.4 506.81H260.9" stroke="#1a1a1a" stroke-width="1"/>
<path d="M257.4 484.36H260.9" stroke="#1a1a1a" stroke-width="1"/>
<path d="M257.4 461.92H260.9" stroke="#1a1a1a" stroke-width="1"/>
<path d="M260.90 607.8V611.0" stroke="#1a1a1a" stroke-width="1"/>
<text x="260.90" y="618.60" text-anchor="middle" font-size="7.2" font-family="Liberation Serif, serif" fill="#1e1e1e" stroke="#1e1e1e" stroke-width="0.16">250</text>
<path d="M289.57 607.8V611.0" stroke="#1a1a1a" stroke-width="1"/>
<text x="289.57" y="618.60" text-anchor="middle" font-size="7.2" font-family="Liberation Serif, serif" fill="#1e1e1e" stroke="#1e1e1e" stroke-width="0.16">275</text>
<path d="M318.23 607.8V611.0" stroke="#1a1a1a" stroke-width="1"/>
<text x="318.23" y="618.60" text-anchor="middle" font-size="7.2" font-family="Liberation Serif, serif" fill="#1e1e1e" stroke="#1e1e1e" stroke-width="0.16">300</text>
<path d="M346.90 607.8V611.0" stroke="#1a1a1a" stroke-width="1"/>
<text x="346.90" y="618.60" text-anchor="middle" font-size="7.2" font-family="Liberation Serif, serif" fill="#1e1e1e" stroke="#1e1e1e" stroke-width="0.16">325</text>
<path d="M375.57 607.8V611.0" stroke="#1a1a1a" stroke-width="1"/>
<text x="375.57" y="618.60" text-anchor="middle" font-size="7.2" font-family="Liberation Serif, serif" fill="#1e1e1e" stroke="#1e1e1e" stroke-width="0.16">350</text>
<path d="M404.23 607.8V611.0" stroke="#1a1a1a" stroke-width="1"/>
<text x="404.23" y="618.60" text-anchor="middle" font-size="7.2" font-family="Liberation Serif, serif" fill="#1e1e1e" stroke="#1e1e1e" stroke-width="0.16">375</text>
<path d="M432.90 607.8V611.0" stroke="#1a1a1a" stroke-width="1"/>
<text x="432.90" y="618.60" text-anchor="middle" font-size="7.2" font-family="Liberation Serif, serif" fill="#1e1e1e" stroke="#1e1e1e" stroke-width="0.16">400</text>
<text x="347" y="627" text-anchor="middle" font-size="7.3" font-family="Liberation Serif, serif" fill="#1e1e1e" stroke="#1e1e1e" stroke-width="0.16">Wavelength (nm)</text>
<text transform="translate(240.5 529) rotate(-90)" text-anchor="middle" font-size="7.3" font-family="Liberation Serif, serif" fill="#1e1e1e" stroke="#1e1e1e" stroke-width="0.16">Absorbance (a.u.)</text>
<text x="235.2" y="451.6" font-size="11.2" font-weight="bold" font-family="Liberation Serif, serif" fill="#111">F</text>
<text x="323.3" y="452.7" text-anchor="middle" font-size="9.5" font-weight="bold" font-family="Liberation Serif, serif" fill="#111">EA</text>
<path d="M29.1 653.4V777.3" fill="none" stroke="#1a1a1a" stroke-width="1.1"/>
<path d="M28.6 777.3H203.6" fill="none" stroke="#1a1a1a" stroke-width="1.1"/>
<path d="M25.6 777.30H29.1" stroke="#1a1a1a" stroke-width="1"/>
<text x="22.3" y="779.70" text-anchor="end" font-size="7.2" font-family="Liberation Serif, serif" fill="#1e1e1e" stroke="#1e1e1e" stroke-width="0.16">0</text>
<path d="M25.6 764.96H29.1" stroke="#1a1a1a" stroke-width="1"/>
<text x="22.3" y="767.36" text-anchor="end" font-size="7.2" font-family="Liberation Serif, serif" fill="#1e1e1e" stroke="#1e1e1e" stroke-width="0.16">5</text>
<path d="M25.6 752.62H29.1" stroke="#1a1a1a" stroke-width="1"/>
<text x="22.3" y="755.02" text-anchor="end" font-size="7.2" font-family="Liberation Serif, serif" fill="#1e1e1e" stroke="#1e1e1e" stroke-width="0.16">10</text>
<path d="M25.6 740.28H29.1" stroke="#1a1a1a" stroke-width="1"/>
<text x="22.3" y="742.68" text-anchor="end" font-size="7.2" font-family="Liberation Serif, serif" fill="#1e1e1e" stroke="#1e1e1e" stroke-width="0.16">15</text>
<path d="M25.6 727.94H29.1" stroke="#1a1a1a" stroke-width="1"/>
<text x="22.3" y="730.34" text-anchor="end" font-size="7.2" font-family="Liberation Serif, serif" fill="#1e1e1e" stroke="#1e1e1e" stroke-width="0.16">20</text>
<path d="M25.6 715.60H29.1" stroke="#1a1a1a" stroke-width="1"/>
<text x="22.3" y="718.00" text-anchor="end" font-size="7.2" font-family="Liberation Serif, serif" fill="#1e1e1e" stroke="#1e1e1e" stroke-width="0.16">25</text>
<path d="M25.6 703.26H29.1" stroke="#1a1a1a" stroke-width="1"/>
<text x="22.3" y="705.66" text-anchor="end" font-size="7.2" font-family="Liberation Serif, serif" fill="#1e1e1e" stroke="#1e1e1e" stroke-width="0.16">30</text>
<path d="M25.6 690.92H29.1" stroke="#1a1a1a" stroke-width="1"/>
<text x="22.3" y="693.32" text-anchor="end" font-size="7.2" font-family="Liberation Serif, serif" fill="#1e1e1e" stroke="#1e1e1e" stroke-width="0.16">35</text>
<path d="M25.6 678.58H29.1" stroke="#1a1a1a" stroke-width="1"/>
<text x="22.3" y="680.98" text-anchor="end" font-size="7.2" font-family="Liberation Serif, serif" fill="#1e1e1e" stroke="#1e1e1e" stroke-width="0.16">40</text>
<path d="M25.6 666.24H29.1" stroke="#1a1a1a" stroke-width="1"/>
<text x="22.3" y="668.64" text-anchor="end" font-size="7.2" font-family="Liberation Serif, serif" fill="#1e1e1e" stroke="#1e1e1e" stroke-width="0.16">45</text>
<path d="M25.6 653.90H29.1" stroke="#1a1a1a" stroke-width="1"/>
<text x="22.3" y="656.30" text-anchor="end" font-size="7.2" font-family="Liberation Serif, serif" fill="#1e1e1e" stroke="#1e1e1e" stroke-width="0.16">50</text>
<path d="M29.10 777.3V780.5" stroke="#1a1a1a" stroke-width="1"/>
<text x="31.70" y="788.30" text-anchor="middle" font-size="7.2" font-family="Liberation Serif, serif" fill="#1e1e1e" stroke="#1e1e1e" stroke-width="0.16">0</text>
<path d="M46.50 777.3V780.5" stroke="#1a1a1a" stroke-width="1"/>
<text x="46.50" y="788.30" text-anchor="middle" font-size="7.2" font-family="Liberation Serif, serif" fill="#1e1e1e" stroke="#1e1e1e" stroke-width="0.16">100</text>
<path d="M63.90 777.3V780.5" stroke="#1a1a1a" stroke-width="1"/>
<text x="63.90" y="788.30" text-anchor="middle" font-size="7.2" font-family="Liberation Serif, serif" fill="#1e1e1e" stroke="#1e1e1e" stroke-width="0.16">200</text>
<path d="M81.30 777.3V780.5" stroke="#1a1a1a" stroke-width="1"/>
<text x="81.30" y="788.30" text-anchor="middle" font-size="7.2" font-family="Liberation Serif, serif" fill="#1e1e1e" stroke="#1e1e1e" stroke-width="0.16">300</text>
<path d="M98.70 777.3V780.5" stroke="#1a1a1a" stroke-width="1"/>
<text x="98.70" y="788.30" text-anchor="middle" font-size="7.2" font-family="Liberation Serif, serif" fill="#1e1e1e" stroke="#1e1e1e" stroke-width="0.16">400</text>
<path d="M116.10 777.3V780.5" stroke="#1a1a1a" stroke-width="1"/>
<text x="116.10" y="788.30" text-anchor="middle" font-size="7.2" font-family="Liberation Serif, serif" fill="#1e1e1e" stroke="#1e1e1e" stroke-width="0.16">500</text>
<path d="M133.50 777.3V780.5" stroke="#1a1a1a" stroke-width="1"/>
<text x="133.50" y="788.30" text-anchor="middle" font-size="7.2" font-family="Liberation Serif, serif" fill="#1e1e1e" stroke="#1e1e1e" stroke-width="0.16">600</text>
<path d="M150.90 777.3V780.5" stroke="#1a1a1a" stroke-width="1"/>
<text x="150.90" y="788.30" text-anchor="middle" font-size="7.2" font-family="Liberation Serif, serif" fill="#1e1e1e" stroke="#1e1e1e" stroke-width="0.16">700</text>
<path d="M168.30 777.3V780.5" stroke="#1a1a1a" stroke-width="1"/>
<text x="168.30" y="788.30" text-anchor="middle" font-size="7.2" font-family="Liberation Serif, serif" fill="#1e1e1e" stroke="#1e1e1e" stroke-width="0.16">800</text>
<path d="M185.70 777.3V780.5" stroke="#1a1a1a" stroke-width="1"/>
<text x="185.70" y="788.30" text-anchor="middle" font-size="7.2" font-family="Liberation Serif, serif" fill="#1e1e1e" stroke="#1e1e1e" stroke-width="0.16">900</text>
<path d="M203.10 777.3V780.5" stroke="#1a1a1a" stroke-width="1"/>
<text x="203.10" y="788.30" text-anchor="middle" font-size="7.2" font-family="Liberation Serif, serif" fill="#1e1e1e" stroke="#1e1e1e" stroke-width="0.16">1000</text>
<text x="117" y="798.2" text-anchor="middle" font-size="7.3" font-family="Liberation Serif, serif" fill="#1e1e1e" stroke="#1e1e1e" stroke-width="0.16">Con. of Drug (µg/mL)</text>
<text transform="translate(9.8 715.6) rotate(-90)" text-anchor="middle" font-size="7.3" font-family="Liberation Serif, serif" fill="#1e1e1e" stroke="#1e1e1e" stroke-width="0.16">% of Drug Release</text>
<text x="3.5" y="656.5" font-size="11.2" font-weight="bold" font-family="Liberation Serif, serif" fill="#111">G</text>
<path d="M260.5 653.4V777.3" fill="none" stroke="#1a1a1a" stroke-width="1.1"/>
<path d="M260.0 777.3H437.9" fill="none" stroke="#1a1a1a" stroke-width="1.1"/>
<path d="M257.0 777.30H260.5" stroke="#1a1a1a" stroke-width="1"/>
<text x="253.7" y="779.70" text-anchor="end" font-size="7.2" font-family="Liberation Serif, serif" fill="#1e1e1e" stroke="#1e1e1e" stroke-width="0.16">0</text>
<path d="M257.0 764.96H260.5" stroke="#1a1a1a" stroke-width="1"/>
<text x="253.7" y="767.36" text-anchor="end" font-size="7.2" font-family="Liberation Serif, serif" fill="#1e1e1e" stroke="#1e1e1e" stroke-width="0.16">5</text>
<path d="M257.0 752.62H260.5" stroke="#1a1a1a" stroke-width="1"/>
<text x="253.7" y="755.02" text-anchor="end" font-size="7.2" font-family="Liberation Serif, serif" fill="#1e1e1e" stroke="#1e1e1e" stroke-width="0.16">10</text>
<path d="M257.0 740.28H260.5" stroke="#1a1a1a" stroke-width="1"/>
<text x="253.7" y="742.68" text-anchor="end" font-size="7.2" font-family="Liberation Serif, serif" fill="#1e1e1e" stroke="#1e1e1e" stroke-width="0.16">15</text>
<path d="M257.0 727.94H260.5" stroke="#1a1a1a" stroke-width="1"/>
<text x="253.7" y="730.34" text-anchor="end" font-size="7.2" font-family="Liberation Serif, serif" fill="#1e1e1e" stroke="#1e1e1e" stroke-width="0.16">20</text>
<path d="M257.0 715.60H260.5" stroke="#1a1a1a" stroke-width="1"/>
<text x="253.7" y="718.00" text-anchor="end" font-size="7.2" font-family="Liberation Serif, serif" fill="#1e1e1e" stroke="#1e1e1e" stroke-width="0.16">25</text>
<path d="M257.0 703.26H260.5" stroke="#1a1a1a" stroke-width="1"/>
<text x="253.7" y="705.66" text-anchor="end" font-size="7.2" font-family="Liberation Serif, serif" fill="#1e1e1e" stroke="#1e1e1e" stroke-width="0.16">30</text>
<path d="M257.0 690.92H260.5" stroke="#1a1a1a" stroke-width="1"/>
<text x="253.7" y="693.32" text-anchor="end" font-size="7.2" font-family="Liberation Serif, serif" fill="#1e1e1e" stroke="#1e1e1e" stroke-width="0.16">35</text>
<path d="M257.0 678.58H260.5" stroke="#1a1a1a" stroke-width="1"/>
<text x="253.7" y="680.98" text-anchor="end" font-size="7.2" font-family="Liberation Serif, serif" fill="#1e1e1e" stroke="#1e1e1e" stroke-width="0.16">40</text>
<path d="M257.0 666.24H260.5" stroke="#1a1a1a" stroke-width="1"/>
<text x="253.7" y="668.64" text-anchor="end" font-size="7.2" font-family="Liberation Serif, serif" fill="#1e1e1e" stroke="#1e1e1e" stroke-width="0.16">45</text>
<path d="M257.0 653.90H260.5" stroke="#1a1a1a" stroke-width="1"/>
<text x="253.7" y="656.30" text-anchor="end" font-size="7.2" font-family="Liberation Serif, serif" fill="#1e1e1e" stroke="#1e1e1e" stroke-width="0.16">50</text>
<path d="M260.50 777.3V780.5" stroke="#1a1a1a" stroke-width="1"/>
<text x="263.10" y="788.30" text-anchor="middle" font-size="7.2" font-family="Liberation Serif, serif" fill="#1e1e1e" stroke="#1e1e1e" stroke-width="0.16">0</text>
<path d="M278.19 777.3V780.5" stroke="#1a1a1a" stroke-width="1"/>
<text x="278.19" y="788.30" text-anchor="middle" font-size="7.2" font-family="Liberation Serif, serif" fill="#1e1e1e" stroke="#1e1e1e" stroke-width="0.16">100</text>
<path d="M295.88 777.3V780.5" stroke="#1a1a1a" stroke-width="1"/>
<text x="295.88" y="788.30" text-anchor="middle" font-size="7.2" font-family="Liberation Serif, serif" fill="#1e1e1e" stroke="#1e1e1e" stroke-width="0.16">200</text>
<path d="M313.57 777.3V780.5" stroke="#1a1a1a" stroke-width="1"/>
<text x="313.57" y="788.30" text-anchor="middle" font-size="7.2" font-family="Liberation Serif, serif" fill="#1e1e1e" stroke="#1e1e1e" stroke-width="0.16">300</text>
<path d="M331.26 777.3V780.5" stroke="#1a1a1a" stroke-width="1"/>
<text x="331.26" y="788.30" text-anchor="middle" font-size="7.2" font-family="Liberation Serif, serif" fill="#1e1e1e" stroke="#1e1e1e" stroke-width="0.16">400</text>
<path d="M348.95 777.3V780.5" stroke="#1a1a1a" stroke-width="1"/>
<text x="348.95" y="788.30" text-anchor="middle" font-size="7.2" font-family="Liberation Serif, serif" fill="#1e1e1e" stroke="#1e1e1e" stroke-width="0.16">500</text>
<path d="M366.64 777.3V780.5" stroke="#1a1a1a" stroke-width="1"/>
<text x="366.64" y="788.30" text-anchor="middle" font-size="7.2" font-family="Liberation Serif, serif" fill="#1e1e1e" stroke="#1e1e1e" stroke-width="0.16">600</text>
<path d="M384.33 777.3V780.5" stroke="#1a1a1a" stroke-width="1"/>
<text x="384.33" y="788.30" text-anchor="middle" font-size="7.2" font-family="Liberation Serif, serif" fill="#1e1e1e" stroke="#1e1e1e" stroke-width="0.16">700</text>
<path d="M402.02 777.3V780.5" stroke="#1a1a1a" stroke-width="1"/>
<text x="402.02" y="788.30" text-anchor="middle" font-size="7.2" font-family="Liberation Serif, serif" fill="#1e1e1e" stroke="#1e1e1e" stroke-width="0.16">800</text>
<path d="M419.71 777.3V780.5" stroke="#1a1a1a" stroke-width="1"/>
<text x="419.71" y="788.30" text-anchor="middle" font-size="7.2" font-family="Liberation Serif, serif" fill="#1e1e1e" stroke="#1e1e1e" stroke-width="0.16">900</text>
<path d="M437.40 777.3V780.5" stroke="#1a1a1a" stroke-width="1"/>
<text x="436.20" y="788.30" text-anchor="middle" font-size="7.2" font-family="Liberation Serif, serif" fill="#1e1e1e" stroke="#1e1e1e" stroke-width="0.16">1000</text>
<text x="349" y="798.2" text-anchor="middle" font-size="7.3" font-family="Liberation Serif, serif" fill="#1e1e1e" stroke="#1e1e1e" stroke-width="0.16">Con. of Drug (µg/mL)</text>
<text transform="translate(240.5 715.6) rotate(-90)" text-anchor="middle" font-size="7.3" font-family="Liberation Serif, serif" fill="#1e1e1e" stroke="#1e1e1e" stroke-width="0.16">% of Drug Release</text>
<text x="236" y="657.2" font-size="11.2" font-weight="bold" font-family="Liberation Serif, serif" fill="#111">H</text>
<path d="M143.9 18.8H151.8" stroke="#2b2b9e" stroke-width="1.4" opacity="0.7"/>
<text x="155.5" y="21.3" font-size="7.3" font-family="Liberation Serif, serif" fill="#1e1e1e" stroke="#1e1e1e" stroke-width="0.16">1000 µg/mL</text>
<path d="M143.9 28.4H151.8" stroke="#c8604a" stroke-width="1.4" opacity="0.7"/>
<text x="155.5" y="30.9" font-size="7.3" font-family="Liberation Serif, serif" fill="#1e1e1e" stroke="#1e1e1e" stroke-width="0.16">500 µg/mL</text>
<path d="M143.9 37.9H151.8" stroke="#5fae4a" stroke-width="1.4" opacity="0.7"/>
<text x="155.5" y="40.4" font-size="7.3" font-family="Liberation Serif, serif" fill="#1e1e1e" stroke="#1e1e1e" stroke-width="0.16">250 µg/mL</text>
<path d="M143.9 47.4H151.8" stroke="#9437c4" stroke-width="1.4" opacity="0.7"/>
<text x="155.5" y="49.9" font-size="7.3" font-family="Liberation Serif, serif" fill="#1e1e1e" stroke="#1e1e1e" stroke-width="0.16">125 µg/mL</text>
<path d="M143.9 57.2H151.8" stroke="#f0a060" stroke-width="1.4" opacity="0.7"/>
<text x="155.5" y="59.7" font-size="7.3" font-family="Liberation Serif, serif" fill="#1e1e1e" stroke="#1e1e1e" stroke-width="0.16">62.5 µg/mL</text>
<path d="M143.9 67.3H151.8" stroke="#151515" stroke-width="1.4" opacity="0.7"/>
<text x="155.5" y="69.8" font-size="7.3" font-family="Liberation Serif, serif" fill="#1e1e1e" stroke="#1e1e1e" stroke-width="0.16">31.25 µg/mL</text>
<path d="M143.9 77H151.8" stroke="#8d7450" stroke-width="1.4" opacity="0.7"/>
<text x="155.5" y="79.5" font-size="7.3" font-family="Liberation Serif, serif" fill="#1e1e1e" stroke="#1e1e1e" stroke-width="0.16">15.6 µg/mL</text>
<path d="M143.9 86.4H151.8" stroke="#6cbcd8" stroke-width="1.4" opacity="0.7"/>
<text x="155.5" y="88.9" font-size="7.3" font-family="Liberation Serif, serif" fill="#1e1e1e" stroke="#1e1e1e" stroke-width="0.16">0</text>
<path d="M394.3 11.9H401.9" stroke="#2b2b9e" stroke-width="1.4" opacity="0.7"/>
<text x="405.5" y="14.4" font-size="7.3" font-family="Liberation Serif, serif" fill="#1e1e1e" stroke="#1e1e1e" stroke-width="0.16">1000 µg/mL</text>
<path d="M394.3 21.3H401.9" stroke="#c8604a" stroke-width="1.4" opacity="0.7"/>
<text x="405.5" y="23.8" font-size="7.3" font-family="Liberation Serif, serif" fill="#1e1e1e" stroke="#1e1e1e" stroke-width="0.16">500 µg/mL</text>
<path d="M394.3 31H401.9" stroke="#5fae4a" stroke-width="1.4" opacity="0.7"/>
<text x="405.5" y="33.5" font-size="7.3" font-family="Liberation Serif, serif" fill="#1e1e1e" stroke="#1e1e1e" stroke-width="0.16">250 µg/mL</text>
<path d="M394.3 40.6H401.9" stroke="#9437c4" stroke-width="1.4" opacity="0.7"/>
<text x="405.5" y="43.1" font-size="7.3" font-family="Liberation Serif, serif" fill="#1e1e1e" stroke="#1e1e1e" stroke-width="0.16">125 µg/mL</text>
<path d="M394.3 50.3H401.9" stroke="#f0a060" stroke-width="1.4" opacity="0.7"/>
<text x="405.5" y="52.8" font-size="7.3" font-family="Liberation Serif, serif" fill="#1e1e1e" stroke="#1e1e1e" stroke-width="0.16">62.5 µg/mL</text>
<path d="M394.3 60.5H401.9" stroke="#151515" stroke-width="1.4" opacity="0.7"/>
<text x="405.5" y="63.0" font-size="7.3" font-family="Liberation Serif, serif" fill="#1e1e1e" stroke="#1e1e1e" stroke-width="0.16">31.25 µg/mL</text>
<path d="M394.3 70.2H401.9" stroke="#8d7450" stroke-width="1.4" opacity="0.7"/>
<text x="405.5" y="72.7" font-size="7.3" font-family="Liberation Serif, serif" fill="#1e1e1e" stroke="#1e1e1e" stroke-width="0.16">15.6 µg/mL</text>
<path d="M394.3 79.9H401.9" stroke="#6cbcd8" stroke-width="1.4" opacity="0.7"/>
<text x="405.5" y="82.4" font-size="7.3" font-family="Liberation Serif, serif" fill="#1e1e1e" stroke="#1e1e1e" stroke-width="0.16">0</text>
<path d="M144.2 249H152" stroke="#2b2b9e" stroke-width="1.4" opacity="0.7"/>
<text x="155.8" y="251.5" font-size="7.3" font-family="Liberation Serif, serif" fill="#1e1e1e" stroke="#1e1e1e" stroke-width="0.16">1000 µg/mL</text>
<path d="M144.2 258.6H152" stroke="#c8604a" stroke-width="1.4" opacity="0.7"/>
<text x="155.8" y="261.1" font-size="7.3" font-family="Liberation Serif, serif" fill="#1e1e1e" stroke="#1e1e1e" stroke-width="0.16">500 µg/mL</text>
<path d="M144.2 268.1H152" stroke="#5fae4a" stroke-width="1.4" opacity="0.7"/>
<text x="155.8" y="270.6" font-size="7.3" font-family="Liberation Serif, serif" fill="#1e1e1e" stroke="#1e1e1e" stroke-width="0.16">250 µg/mL</text>
<path d="M144.2 278H152" stroke="#9437c4" stroke-width="1.4" opacity="0.7"/>
<text x="155.8" y="280.5" font-size="7.3" font-family="Liberation Serif, serif" fill="#1e1e1e" stroke="#1e1e1e" stroke-width="0.16">125 µg/mL</text>
<path d="M144.2 287.5H152" stroke="#f0a060" stroke-width="1.4" opacity="0.7"/>
<text x="155.8" y="290.0" font-size="7.3" font-family="Liberation Serif, serif" fill="#1e1e1e" stroke="#1e1e1e" stroke-width="0.16">62.5 µg/mL</text>
<path d="M144.2 297.8H152" stroke="#151515" stroke-width="1.4" opacity="0.7"/>
<text x="155.8" y="300.3" font-size="7.3" font-family="Liberation Serif, serif" fill="#1e1e1e" stroke="#1e1e1e" stroke-width="0.16">31.25 µg/mL</text>
<path d="M144.2 307.3H152" stroke="#8d7450" stroke-width="1.4" opacity="0.7"/>
<text x="155.8" y="309.8" font-size="7.3" font-family="Liberation Serif, serif" fill="#1e1e1e" stroke="#1e1e1e" stroke-width="0.16">15.6 µg/mL</text>
<path d="M144.2 317H152" stroke="#6cbcd8" stroke-width="1.4" opacity="0.7"/>
<text x="155.8" y="319.5" font-size="7.3" font-family="Liberation Serif, serif" fill="#1e1e1e" stroke="#1e1e1e" stroke-width="0.16">0</text>
<path d="M378.7 249.5H386" stroke="#2b2b9e" stroke-width="1.4" opacity="0.7"/>
<text x="391" y="252.0" font-size="7.3" font-family="Liberation Serif, serif" fill="#1e1e1e" stroke="#1e1e1e" stroke-width="0.16">1000 µg/mL</text>
<path d="M378.7 259.1H386" stroke="#c8604a" stroke-width="1.4" opacity="0.7"/>
<text x="391" y="261.6" font-size="7.3" font-family="Liberation Serif, serif" fill="#1e1e1e" stroke="#1e1e1e" stroke-width="0.16">500 µg/mL</text>
<path d="M378.7 268.7H386" stroke="#5fae4a" stroke-width="1.4" opacity="0.7"/>
<text x="391" y="271.2" font-size="7.3" font-family="Liberation Serif, serif" fill="#1e1e1e" stroke="#1e1e1e" stroke-width="0.16">250 µg/mL</text>
<path d="M378.7 278.3H386" stroke="#9437c4" stroke-width="1.4" opacity="0.7"/>
<text x="391" y="280.8" font-size="7.3" font-family="Liberation Serif, serif" fill="#1e1e1e" stroke="#1e1e1e" stroke-width="0.16">125 µg/mL</text>
<path d="M378.7 288H386" stroke="#f0a060" stroke-width="1.4" opacity="0.7"/>
<text x="391" y="290.5" font-size="7.3" font-family="Liberation Serif, serif" fill="#1e1e1e" stroke="#1e1e1e" stroke-width="0.16">62.5 µg/mL</text>
<path d="M378.7 298.1H386" stroke="#151515" stroke-width="1.4" opacity="0.7"/>
<text x="391" y="300.6" font-size="7.3" font-family="Liberation Serif, serif" fill="#1e1e1e" stroke="#1e1e1e" stroke-width="0.16">31.25 µg/mL</text>
<path d="M378.7 307.8H386" stroke="#8d7450" stroke-width="1.4" opacity="0.7"/>
<text x="391" y="310.3" font-size="7.3" font-family="Liberation Serif, serif" fill="#1e1e1e" stroke="#1e1e1e" stroke-width="0.16">15.6 µg/mL</text>
<path d="M378.7 317.4H386" stroke="#6cbcd8" stroke-width="1.4" opacity="0.7"/>
<text x="391" y="319.9" font-size="7.3" font-family="Liberation Serif, serif" fill="#1e1e1e" stroke="#1e1e1e" stroke-width="0.16">0</text>
<path d="M144.2 456.9H152" stroke="#2b2b9e" stroke-width="1.4" opacity="0.7"/>
<text x="155.6" y="459.4" font-size="7.3" font-family="Liberation Serif, serif" fill="#1e1e1e" stroke="#1e1e1e" stroke-width="0.16">1000 µg/mL</text>
<path d="M144.2 466.6H152" stroke="#c8604a" stroke-width="1.4" opacity="0.7"/>
<text x="155.6" y="469.1" font-size="7.3" font-family="Liberation Serif, serif" fill="#1e1e1e" stroke="#1e1e1e" stroke-width="0.16">500 µg/mL</text>
<path d="M144.2 476.3H152" stroke="#5fae4a" stroke-width="1.4" opacity="0.7"/>
<text x="155.6" y="478.8" font-size="7.3" font-family="Liberation Serif, serif" fill="#1e1e1e" stroke="#1e1e1e" stroke-width="0.16">250 µg/mL</text>
<path d="M144.2 486H152" stroke="#9437c4" stroke-width="1.4" opacity="0.7"/>
<text x="155.6" y="488.5" font-size="7.3" font-family="Liberation Serif, serif" fill="#1e1e1e" stroke="#1e1e1e" stroke-width="0.16">125 µg/mL</text>
<path d="M144.2 495.6H152" stroke="#f0a060" stroke-width="1.4" opacity="0.7"/>
<text x="155.6" y="498.1" font-size="7.3" font-family="Liberation Serif, serif" fill="#1e1e1e" stroke="#1e1e1e" stroke-width="0.16">62.5 µg/mL</text>
<path d="M144.2 505.8H152" stroke="#151515" stroke-width="1.4" opacity="0.7"/>
<text x="155.6" y="508.3" font-size="7.3" font-family="Liberation Serif, serif" fill="#1e1e1e" stroke="#1e1e1e" stroke-width="0.16">31.25 µg/mL</text>
<path d="M144.2 515.3H152" stroke="#8d7450" stroke-width="1.4" opacity="0.7"/>
<text x="155.6" y="517.8" font-size="7.3" font-family="Liberation Serif, serif" fill="#1e1e1e" stroke="#1e1e1e" stroke-width="0.16">15.6 µg/mL</text>
<path d="M144.2 525.4H152" stroke="#6cbcd8" stroke-width="1.4" opacity="0.7"/>
<text x="155.6" y="527.9" font-size="7.3" font-family="Liberation Serif, serif" fill="#1e1e1e" stroke="#1e1e1e" stroke-width="0.16">0</text>
<path d="M378.7 456.9H386" stroke="#2b2b9e" stroke-width="1.4" opacity="0.7"/>
<text x="390" y="459.4" font-size="7.3" font-family="Liberation Serif, serif" fill="#1e1e1e" stroke="#1e1e1e" stroke-width="0.16">1000 µg/mL</text>
<path d="M378.7 466.6H386" stroke="#c8604a" stroke-width="1.4" opacity="0.7"/>
<text x="390" y="469.1" font-size="7.3" font-family="Liberation Serif, serif" fill="#1e1e1e" stroke="#1e1e1e" stroke-width="0.16">500 µg/mL</text>
<path d="M378.7 476.3H386" stroke="#5fae4a" stroke-width="1.4" opacity="0.7"/>
<text x="390" y="478.8" font-size="7.3" font-family="Liberation Serif, serif" fill="#1e1e1e" stroke="#1e1e1e" stroke-width="0.16">250 µg/mL</text>
<path d="M378.7 486H386" stroke="#9437c4" stroke-width="1.4" opacity="0.7"/>
<text x="390" y="488.5" font-size="7.3" font-family="Liberation Serif, serif" fill="#1e1e1e" stroke="#1e1e1e" stroke-width="0.16">125 µg/mL</text>
<path d="M378.7 495.6H386" stroke="#f0a060" stroke-width="1.4" opacity="0.7"/>
<text x="390" y="498.1" font-size="7.3" font-family="Liberation Serif, serif" fill="#1e1e1e" stroke="#1e1e1e" stroke-width="0.16">62.5 µg/mL</text>
<path d="M378.7 505.8H386" stroke="#151515" stroke-width="1.4" opacity="0.7"/>
<text x="390" y="508.3" font-size="7.3" font-family="Liberation Serif, serif" fill="#1e1e1e" stroke="#1e1e1e" stroke-width="0.16">31.25 µg/mL</text>
<path d="M378.7 515.3H386" stroke="#8d7450" stroke-width="1.4" opacity="0.7"/>
<text x="390" y="517.8" font-size="7.3" font-family="Liberation Serif, serif" fill="#1e1e1e" stroke="#1e1e1e" stroke-width="0.16">15.6 µg/mL</text>
<path d="M378.7 525.4H386" stroke="#6cbcd8" stroke-width="1.4" opacity="0.7"/>
<text x="390" y="527.9" font-size="7.3" font-family="Liberation Serif, serif" fill="#1e1e1e" stroke="#1e1e1e" stroke-width="0.16">0</text>
<path d="M29.1 777.3 L31.8 751.6 L34.5 747.2 L40.0 746.7 L50.9 734.6 L72.6 734.6 L116.1 728.4 L203.1 707.5" fill="none" stroke="#d84840" stroke-width="1.1" stroke-linejoin="round" stroke-linecap="round"/>
<rect x="27.0" y="775.2" width="4.2" height="4.2" fill="#d84840"/>
<rect x="29.7" y="749.5" width="4.2" height="4.2" fill="#d84840"/>
<rect x="32.4" y="745.1" width="4.2" height="4.2" fill="#d84840"/>
<rect x="37.9" y="744.6" width="4.2" height="4.2" fill="#d84840"/>
<rect x="48.8" y="732.5" width="4.2" height="4.2" fill="#d84840"/>
<rect x="70.5" y="732.5" width="4.2" height="4.2" fill="#d84840"/>
<rect x="114.0" y="726.3" width="4.2" height="4.2" fill="#d84840"/>
<rect x="201.0" y="705.4" width="4.2" height="4.2" fill="#d84840"/>
<path d="M29.1 777.3 L31.8 767.7 L34.5 767.2 L40.0 763.7 L50.9 757.1 L72.6 750.4 L116.1 730.9 L203.1 698.1" fill="none" stroke="#1a1ac0" stroke-width="1.1" stroke-linejoin="round" stroke-linecap="round"/>
<circle cx="29.1" cy="777.3" r="2.3" fill="#1a1ac0"/>
<circle cx="31.8" cy="767.7" r="2.3" fill="#1a1ac0"/>
<circle cx="34.5" cy="767.2" r="2.3" fill="#1a1ac0"/>
<circle cx="40.0" cy="763.7" r="2.3" fill="#1a1ac0"/>
<circle cx="50.9" cy="757.1" r="2.3" fill="#1a1ac0"/>
<circle cx="72.6" cy="750.4" r="2.3" fill="#1a1ac0"/>
<circle cx="116.1" cy="730.9" r="2.3" fill="#1a1ac0"/>
<circle cx="203.1" cy="698.1" r="2.3" fill="#1a1ac0"/>
<path d="M260.5 777.3 L263.3 690.4 L266.0 681.8 L271.6 705.5 L282.6 671.7 L304.7 713.4 L348.9 725.2 L437.4 723.5" fill="none" stroke="#d84840" stroke-width="1.1" stroke-linejoin="round" stroke-linecap="round"/>
<rect x="258.4" y="775.2" width="4.2" height="4.2" fill="#d84840"/>
<rect x="261.2" y="688.3" width="4.2" height="4.2" fill="#d84840"/>
<rect x="263.9" y="679.7" width="4.2" height="4.2" fill="#d84840"/>
<rect x="269.5" y="703.4" width="4.2" height="4.2" fill="#d84840"/>
<rect x="280.5" y="669.6" width="4.2" height="4.2" fill="#d84840"/>
<rect x="302.6" y="711.3" width="4.2" height="4.2" fill="#d84840"/>
<rect x="346.8" y="723.1" width="4.2" height="4.2" fill="#d84840"/>
<rect x="435.3" y="721.4" width="4.2" height="4.2" fill="#d84840"/>
<path d="M260.5 777.3 L263.3 770.9 L266.0 773.1 L271.6 766.2 L282.6 764.2 L304.7 748.9 L348.9 737.1 L437.4 706.0" fill="none" stroke="#1a1ac0" stroke-width="1.1" stroke-linejoin="round" stroke-linecap="round"/>
<circle cx="260.5" cy="777.3" r="2.3" fill="#1a1ac0"/>
<circle cx="263.3" cy="770.9" r="2.3" fill="#1a1ac0"/>
<circle cx="266.0" cy="773.1" r="2.3" fill="#1a1ac0"/>
<circle cx="271.6" cy="766.2" r="2.3" fill="#1a1ac0"/>
<circle cx="282.6" cy="764.2" r="2.3" fill="#1a1ac0"/>
<circle cx="304.7" cy="748.9" r="2.3" fill="#1a1ac0"/>
<circle cx="348.9" cy="737.1" r="2.3" fill="#1a1ac0"/>
<circle cx="437.4" cy="706.0" r="2.3" fill="#1a1ac0"/>
<path d="M132.3 668.2H139.3" stroke="#1a1ac0" stroke-width="1.1"/>
<path d="M135.8 665.8000000000001L138.4 668.2L135.8 670.6L133.20000000000002 668.2Z" fill="#1a1ac0"/>
<text x="143.6" y="670.7" font-size="7.3" font-family="Liberation Serif, serif" fill="#1e1e1e" stroke="#1e1e1e" stroke-width="0.16">% of CAPE release</text>
<path d="M132.3 678.8H139.3" stroke="#d84840" stroke-width="1.1"/>
<ellipse cx="135.8" cy="678.8" rx="2.6" ry="2.1" fill="#d84840"/>
<text x="143.6" y="681.3" font-size="7.3" font-family="Liberation Serif, serif" fill="#1e1e1e" stroke="#1e1e1e" stroke-width="0.16">% of EA release</text>
<path d="M366.4 668.8H373.4" stroke="#1a1ac0" stroke-width="1.1"/>
<path d="M369.9 666.4L372.5 668.8L369.9 671.1999999999999L367.29999999999995 668.8Z" fill="#1a1ac0"/>
<text x="377.8" y="671.3" font-size="7.3" font-family="Liberation Serif, serif" fill="#1e1e1e" stroke="#1e1e1e" stroke-width="0.16">% of CAPE release</text>
<path d="M366.4 679.2H373.4" stroke="#d84840" stroke-width="1.1"/>
<ellipse cx="369.9" cy="679.2" rx="2.6" ry="2.1" fill="#d84840"/>
<text x="377.8" y="681.7" font-size="7.3" font-family="Liberation Serif, serif" fill="#1e1e1e" stroke="#1e1e1e" stroke-width="0.16">% of EA release</text>
</svg></body></html>
